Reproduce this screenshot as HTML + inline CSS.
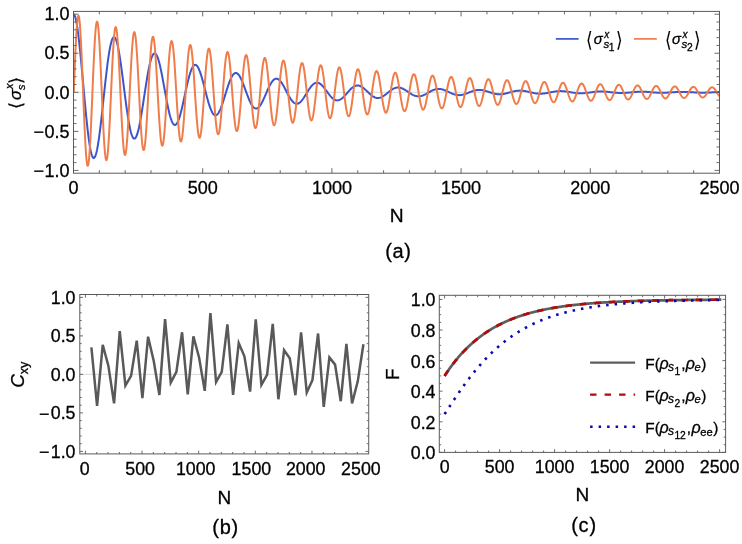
<!DOCTYPE html>
<html lang="en">
<head>
<meta charset="utf-8">
<title>Figure</title>
<style>
html,body{margin:0;padding:0;background:#fff;}
body{width:742px;height:544px;overflow:hidden;}
svg{display:block;font-family:"Liberation Sans",sans-serif;}
text{stroke:#000;stroke-width:0.3px;paint-order:stroke fill;}
</style>
</head>
<body>
<svg width="742" height="544" viewBox="0 0 742 544">
<rect width="742" height="544" fill="#ffffff"/>
<g id="plotA">
<line x1="73.5" x2="719.5" y1="92.3" y2="92.3" stroke="#bdbdbd" stroke-width="0.6"/>
<clipPath id="clipA"><rect x="73.5" y="11.4" width="646" height="161.8"/></clipPath>
<g clip-path="url(#clipA)" fill="none" stroke-linejoin="round" transform="translate(0.3,0)">
<path d="M73.5 14.2 L74.02 14.8 L74.53 15.88 L75.05 17.44 L75.57 19.47 L76.08 21.95 L76.6 24.85 L77.12 28.16 L77.63 31.84 L78.15 35.89 L78.67 40.25 L79.18 44.91 L79.7 49.83 L80.22 54.98 L80.74 60.33 L81.25 65.83 L81.77 71.44 L82.29 77.15 L82.8 82.9 L83.32 88.66 L83.84 94.39 L84.35 100.05 L84.87 105.62 L85.39 111.05 L85.9 116.32 L86.42 121.38 L86.94 126.22 L87.45 130.79 L87.97 135.08 L88.49 139.06 L89 142.7 L89.52 145.99 L90.04 148.91 L90.55 151.44 L91.07 153.57 L91.59 155.29 L92.1 156.59 L92.62 157.47 L93.14 157.92 L93.66 157.96 L94.17 157.57 L94.69 156.77 L95.21 155.56 L95.72 153.96 L96.24 151.98 L96.76 149.64 L97.27 146.95 L97.79 143.94 L98.31 140.62 L98.82 137.03 L99.34 133.18 L99.86 129.1 L100.37 124.82 L100.89 120.38 L101.41 115.79 L101.92 111.1 L102.44 106.32 L102.96 101.5 L103.47 96.67 L103.99 91.84 L104.51 87.07 L105.02 82.36 L105.54 77.77 L106.06 73.31 L106.58 69 L107.09 64.89 L107.61 60.99 L108.13 57.32 L108.64 53.9 L109.16 50.77 L109.68 47.92 L110.19 45.39 L110.71 43.17 L111.23 41.29 L111.74 39.76 L112.26 38.57 L112.78 37.73 L113.29 37.25 L113.81 37.13 L114.33 37.36 L114.84 37.94 L115.36 38.86 L115.88 40.12 L116.39 41.7 L116.91 43.58 L117.43 45.76 L117.94 48.22 L118.46 50.94 L118.98 53.9 L119.5 57.08 L120.01 60.45 L120.53 64 L121.05 67.7 L121.56 71.52 L122.08 75.44 L122.6 79.44 L123.11 83.48 L123.63 87.54 L124.15 91.59 L124.66 95.62 L125.18 99.59 L125.7 103.47 L126.21 107.25 L126.73 110.9 L127.25 114.4 L127.76 117.73 L128.28 120.87 L128.8 123.79 L129.31 126.49 L129.83 128.95 L130.35 131.15 L130.86 133.08 L131.38 134.74 L131.9 136.11 L132.42 137.19 L132.93 137.97 L133.45 138.45 L133.97 138.63 L134.48 138.52 L135 138.11 L135.52 137.42 L136.03 136.44 L136.55 135.18 L137.07 133.67 L137.58 131.9 L138.1 129.9 L138.62 127.67 L139.13 125.24 L139.65 122.62 L140.17 119.83 L140.68 116.89 L141.2 113.81 L141.72 110.63 L142.23 107.35 L142.75 104.01 L143.27 100.63 L143.78 97.22 L144.3 93.81 L144.82 90.42 L145.34 87.07 L145.85 83.79 L146.37 80.59 L146.89 77.49 L147.4 74.52 L147.92 71.68 L148.44 69 L148.95 66.49 L149.47 64.17 L149.99 62.06 L150.5 60.15 L151.02 58.46 L151.54 57.01 L152.05 55.79 L152.57 54.82 L153.09 54.1 L153.6 53.62 L154.12 53.4 L154.64 53.43 L155.15 53.71 L155.67 54.23 L156.19 54.99 L156.7 55.98 L157.22 57.19 L157.74 58.62 L158.26 60.25 L158.77 62.07 L159.29 64.07 L159.81 66.23 L160.32 68.53 L160.84 70.97 L161.36 73.53 L161.87 76.18 L162.39 78.91 L162.91 81.7 L163.42 84.53 L163.94 87.39 L164.46 90.26 L164.97 93.11 L165.49 95.93 L166.01 98.71 L166.52 101.42 L167.04 104.04 L167.56 106.57 L168.07 108.99 L168.59 111.27 L169.11 113.42 L169.62 115.41 L170.14 117.24 L170.66 118.89 L171.18 120.35 L171.69 121.63 L172.21 122.7 L172.73 123.58 L173.24 124.24 L173.76 124.69 L174.28 124.94 L174.79 124.97 L175.31 124.79 L175.83 124.41 L176.34 123.83 L176.86 123.05 L177.38 122.08 L177.89 120.93 L178.41 119.6 L178.93 118.12 L179.44 116.48 L179.96 114.7 L180.48 112.79 L180.99 110.77 L181.51 108.65 L182.03 106.45 L182.54 104.17 L183.06 101.84 L183.58 99.47 L184.1 97.07 L184.61 94.66 L185.13 92.26 L185.65 89.88 L186.16 87.54 L186.68 85.25 L187.2 83.02 L187.71 80.88 L188.23 78.82 L188.75 76.87 L189.26 75.04 L189.78 73.33 L190.3 71.76 L190.81 70.33 L191.33 69.06 L191.85 67.94 L192.36 66.99 L192.88 66.21 L193.4 65.61 L193.91 65.18 L194.43 64.93 L194.95 64.85 L195.46 64.95 L195.98 65.23 L196.5 65.67 L197.02 66.28 L197.53 67.06 L198.05 67.98 L198.57 69.06 L199.08 70.27 L199.6 71.61 L200.12 73.07 L200.63 74.65 L201.15 76.32 L201.67 78.08 L202.18 79.91 L202.7 81.81 L203.22 83.76 L203.73 85.74 L204.25 87.75 L204.77 89.77 L205.28 91.79 L205.8 93.79 L206.32 95.77 L206.83 97.71 L207.35 99.59 L207.87 101.41 L208.38 103.16 L208.9 104.82 L209.42 106.39 L209.94 107.86 L210.45 109.21 L210.97 110.44 L211.49 111.55 L212 112.52 L212.52 113.35 L213.04 114.05 L213.55 114.59 L214.07 115 L214.59 115.25 L215.1 115.35 L215.62 115.31 L216.14 115.11 L216.65 114.78 L217.17 114.3 L217.69 113.69 L218.2 112.95 L218.72 112.08 L219.24 111.09 L219.75 109.99 L220.27 108.79 L220.79 107.49 L221.3 106.11 L221.82 104.65 L222.34 103.13 L222.86 101.55 L223.37 99.92 L223.89 98.26 L224.41 96.58 L224.92 94.88 L225.44 93.19 L225.96 91.5 L226.47 89.83 L226.99 88.19 L227.51 86.6 L228.02 85.05 L228.54 83.57 L229.06 82.15 L229.57 80.81 L230.09 79.56 L230.61 78.4 L231.12 77.33 L231.64 76.38 L232.16 75.53 L232.67 74.8 L233.19 74.18 L233.71 73.69 L234.22 73.32 L234.74 73.07 L235.26 72.95 L235.78 72.96 L236.29 73.08 L236.81 73.33 L237.33 73.7 L237.84 74.19 L238.36 74.78 L238.88 75.48 L239.39 76.29 L239.91 77.18 L240.43 78.17 L240.94 79.24 L241.46 80.38 L241.98 81.59 L242.49 82.86 L243.01 84.17 L243.53 85.53 L244.04 86.91 L244.56 88.32 L245.08 89.75 L245.59 91.17 L246.11 92.59 L246.63 94 L247.14 95.38 L247.66 96.73 L248.18 98.04 L248.7 99.3 L249.21 100.51 L249.73 101.65 L250.25 102.73 L250.76 103.72 L251.28 104.64 L251.8 105.47 L252.31 106.2 L252.83 106.84 L253.35 107.39 L253.86 107.83 L254.38 108.17 L254.9 108.4 L255.41 108.53 L255.93 108.56 L256.45 108.48 L256.96 108.3 L257.48 108.01 L258 107.63 L258.51 107.16 L259.03 106.59 L259.55 105.94 L260.06 105.21 L260.58 104.4 L261.1 103.52 L261.62 102.57 L262.13 101.57 L262.65 100.52 L263.17 99.43 L263.68 98.3 L264.2 97.14 L264.72 95.96 L265.23 94.77 L265.75 93.57 L266.27 92.38 L266.78 91.19 L267.3 90.02 L267.82 88.88 L268.33 87.77 L268.85 86.7 L269.37 85.67 L269.88 84.7 L270.4 83.78 L270.92 82.93 L271.43 82.14 L271.95 81.42 L272.47 80.78 L272.98 80.22 L273.5 79.74 L274.02 79.35 L274.54 79.04 L275.05 78.82 L275.57 78.69 L276.09 78.64 L276.6 78.69 L277.12 78.82 L277.64 79.03 L278.15 79.33 L278.67 79.71 L279.19 80.16 L279.7 80.69 L280.22 81.29 L280.74 81.95 L281.25 82.67 L281.77 83.45 L282.29 84.28 L282.8 85.15 L283.32 86.06 L283.84 87 L284.35 87.97 L284.87 88.96 L285.39 89.96 L285.9 90.96 L286.42 91.97 L286.94 92.96 L287.46 93.95 L287.97 94.91 L288.49 95.85 L289.01 96.76 L289.52 97.64 L290.04 98.47 L290.56 99.25 L291.07 99.98 L291.59 100.66 L292.11 101.28 L292.62 101.83 L293.14 102.32 L293.66 102.74 L294.17 103.09 L294.69 103.37 L295.21 103.58 L295.72 103.71 L296.24 103.77 L296.76 103.75 L297.27 103.66 L297.79 103.5 L298.31 103.27 L298.82 102.97 L299.34 102.6 L299.86 102.18 L300.38 101.69 L300.89 101.15 L301.41 100.55 L301.93 99.91 L302.44 99.23 L302.96 98.5 L303.48 97.75 L303.99 96.96 L304.51 96.16 L305.03 95.33 L305.54 94.5 L306.06 93.65 L306.58 92.81 L307.09 91.97 L307.61 91.14 L308.13 90.32 L308.64 89.53 L309.16 88.75 L309.68 88.01 L310.19 87.31 L310.71 86.64 L311.23 86.01 L311.74 85.43 L312.26 84.89 L312.78 84.41 L313.3 83.99 L313.81 83.62 L314.33 83.31 L314.85 83.06 L315.36 82.87 L315.88 82.74 L316.4 82.68 L316.91 82.67 L317.43 82.73 L317.95 82.85 L318.46 83.03 L318.98 83.27 L319.5 83.56 L320.01 83.9 L320.53 84.3 L321.05 84.74 L321.56 85.23 L322.08 85.76 L322.6 86.32 L323.11 86.92 L323.63 87.55 L324.15 88.2 L324.66 88.88 L325.18 89.57 L325.7 90.27 L326.22 90.97 L326.73 91.68 L327.25 92.39 L327.77 93.09 L328.28 93.78 L328.8 94.45 L329.32 95.1 L329.83 95.73 L330.35 96.34 L330.87 96.91 L331.38 97.45 L331.9 97.94 L332.42 98.4 L332.93 98.82 L333.45 99.19 L333.97 99.51 L334.48 99.79 L335 100.01 L335.52 100.18 L336.03 100.3 L336.55 100.37 L337.07 100.39 L337.58 100.35 L338.1 100.27 L338.62 100.13 L339.14 99.94 L339.65 99.71 L340.17 99.43 L340.69 99.11 L341.2 98.75 L341.72 98.35 L342.24 97.92 L342.75 97.45 L343.27 96.95 L343.79 96.43 L344.3 95.89 L344.82 95.33 L345.34 94.75 L345.85 94.17 L346.37 93.58 L346.89 92.98 L347.4 92.39 L347.92 91.8 L348.44 91.21 L348.95 90.64 L349.47 90.09 L349.99 89.56 L350.5 89.04 L351.02 88.56 L351.54 88.1 L352.06 87.67 L352.57 87.27 L353.09 86.92 L353.61 86.59 L354.12 86.31 L354.64 86.07 L355.16 85.87 L355.67 85.71 L356.19 85.6 L356.71 85.53 L357.22 85.51 L357.74 85.52 L358.26 85.59 L358.77 85.69 L359.29 85.83 L359.81 86.02 L360.32 86.24 L360.84 86.5 L361.36 86.8 L361.87 87.12 L362.39 87.48 L362.91 87.87 L363.42 88.28 L363.94 88.71 L364.46 89.16 L364.98 89.63 L365.49 90.11 L366.01 90.6 L366.53 91.09 L367.04 91.59 L367.56 92.09 L368.08 92.59 L368.59 93.08 L369.11 93.56 L369.63 94.03 L370.14 94.49 L370.66 94.92 L371.18 95.34 L371.69 95.73 L372.21 96.09 L372.73 96.43 L373.24 96.74 L373.76 97.02 L374.28 97.27 L374.79 97.48 L375.31 97.66 L375.83 97.8 L376.34 97.9 L376.86 97.97 L377.38 98 L377.9 98 L378.41 97.96 L378.93 97.88 L379.45 97.77 L379.96 97.62 L380.48 97.44 L381 97.23 L381.51 96.99 L382.03 96.72 L382.55 96.43 L383.06 96.11 L383.58 95.77 L384.1 95.42 L384.61 95.04 L385.13 94.65 L385.65 94.25 L386.16 93.84 L386.68 93.43 L387.2 93.01 L387.71 92.59 L388.23 92.17 L388.75 91.75 L389.26 91.35 L389.78 90.95 L390.3 90.57 L390.82 90.2 L391.33 89.84 L391.85 89.51 L392.37 89.19 L392.88 88.9 L393.4 88.64 L393.92 88.39 L394.43 88.18 L394.95 87.99 L395.47 87.84 L395.98 87.71 L396.5 87.61 L397.02 87.55 L397.53 87.51 L398.05 87.51 L398.57 87.54 L399.08 87.59 L399.6 87.68 L400.12 87.8 L400.63 87.94 L401.15 88.11 L401.67 88.3 L402.18 88.52 L402.7 88.76 L403.22 89.02 L403.74 89.3 L404.25 89.6 L404.77 89.91 L405.29 90.24 L405.8 90.57 L406.32 90.91 L406.84 91.26 L407.35 91.61 L407.87 91.96 L408.39 92.32 L408.9 92.66 L409.42 93.01 L409.94 93.34 L410.45 93.67 L410.97 93.98 L411.49 94.29 L412 94.57 L412.52 94.84 L413.04 95.09 L413.55 95.32 L414.07 95.53 L414.59 95.71 L415.1 95.88 L415.62 96.01 L416.14 96.13 L416.66 96.22 L417.17 96.28 L417.69 96.31 L418.21 96.32 L418.72 96.31 L419.24 96.27 L419.76 96.2 L420.27 96.11 L420.79 96 L421.31 95.86 L421.82 95.7 L422.34 95.52 L422.86 95.33 L423.37 95.11 L423.89 94.88 L424.41 94.64 L424.92 94.38 L425.44 94.11 L425.96 93.83 L426.47 93.54 L426.99 93.25 L427.51 92.96 L428.02 92.66 L428.54 92.37 L429.06 92.07 L429.58 91.78 L430.09 91.5 L430.61 91.22 L431.13 90.96 L431.64 90.7 L432.16 90.46 L432.68 90.23 L433.19 90.01 L433.71 89.81 L434.23 89.63 L434.74 89.47 L435.26 89.33 L435.78 89.21 L436.29 89.11 L436.81 89.03 L437.33 88.97 L437.84 88.93 L438.36 88.92 L438.88 88.93 L439.39 88.96 L439.91 89.01 L440.43 89.08 L440.94 89.17 L441.46 89.28 L441.98 89.4 L442.5 89.55 L443.01 89.71 L443.53 89.89 L444.05 90.08 L444.56 90.28 L445.08 90.5 L445.6 90.72 L446.11 90.95 L446.63 91.19 L447.15 91.43 L447.66 91.68 L448.18 91.93 L448.7 92.18 L449.21 92.43 L449.73 92.67 L450.25 92.91 L450.76 93.14 L451.28 93.37 L451.8 93.59 L452.31 93.79 L452.83 93.99 L453.35 94.17 L453.86 94.34 L454.38 94.5 L454.9 94.64 L455.42 94.76 L455.93 94.87 L456.45 94.96 L456.97 95.03 L457.48 95.08 L458 95.12 L458.52 95.14 L459.03 95.14 L459.55 95.12 L460.07 95.08 L460.58 95.03 L461.1 94.95 L461.62 94.87 L462.13 94.76 L462.65 94.64 L463.17 94.51 L463.68 94.37 L464.2 94.21 L464.72 94.04 L465.23 93.86 L465.75 93.68 L466.27 93.49 L466.78 93.29 L467.3 93.08 L467.82 92.88 L468.34 92.67 L468.85 92.46 L469.37 92.25 L469.89 92.04 L470.4 91.84 L470.92 91.64 L471.44 91.45 L471.95 91.27 L472.47 91.09 L472.99 90.92 L473.5 90.77 L474.02 90.62 L474.54 90.49 L475.05 90.37 L475.57 90.26 L476.09 90.16 L476.6 90.09 L477.12 90.02 L477.64 89.97 L478.15 89.94 L478.67 89.92 L479.19 89.92 L479.7 89.93 L480.22 89.96 L480.74 90 L481.26 90.05 L481.77 90.12 L482.29 90.21 L482.81 90.3 L483.32 90.41 L483.84 90.53 L484.36 90.66 L484.87 90.8 L485.39 90.94 L485.91 91.1 L486.42 91.26 L486.94 91.43 L487.46 91.6 L487.97 91.77 L488.49 91.94 L489.01 92.12 L489.52 92.29 L490.04 92.47 L490.56 92.64 L491.07 92.81 L491.59 92.97 L492.11 93.13 L492.62 93.28 L493.14 93.42 L493.66 93.55 L494.18 93.68 L494.69 93.79 L495.21 93.9 L495.73 93.99 L496.24 94.07 L496.76 94.14 L497.28 94.2 L497.79 94.25 L498.31 94.28 L498.83 94.3 L499.34 94.3 L499.86 94.3 L500.38 94.28 L500.89 94.24 L501.41 94.2 L501.93 94.14 L502.44 94.08 L502.96 94 L503.48 93.91 L503.99 93.81 L504.51 93.71 L505.03 93.59 L505.54 93.47 L506.06 93.34 L506.58 93.21 L507.1 93.07 L507.61 92.93 L508.13 92.79 L508.65 92.64 L509.16 92.49 L509.68 92.34 L510.2 92.2 L510.71 92.05 L511.23 91.91 L511.75 91.77 L512.26 91.64 L512.78 91.51 L513.3 91.39 L513.81 91.28 L514.33 91.17 L514.85 91.07 L515.36 90.98 L515.88 90.9 L516.4 90.83 L516.91 90.77 L517.43 90.72 L517.95 90.68 L518.46 90.65 L518.98 90.63 L519.5 90.62 L520.02 90.62 L520.53 90.63 L521.05 90.66 L521.57 90.69 L522.08 90.74 L522.6 90.79 L523.12 90.85 L523.63 90.93 L524.15 91.01 L524.67 91.09 L525.18 91.19 L525.7 91.29 L526.22 91.39 L526.73 91.5 L527.25 91.62 L527.77 91.74 L528.28 91.86 L528.8 91.98 L529.32 92.11 L529.83 92.23 L530.35 92.35 L530.87 92.47 L531.38 92.59 L531.9 92.71 L532.42 92.82 L532.94 92.93 L533.45 93.04 L533.97 93.13 L534.49 93.23 L535 93.31 L535.52 93.39 L536.04 93.46 L536.55 93.52 L537.07 93.57 L537.59 93.62 L538.1 93.66 L538.62 93.68 L539.14 93.7 L539.65 93.71 L540.17 93.71 L540.69 93.7 L541.2 93.68 L541.72 93.66 L542.24 93.62 L542.75 93.58 L543.27 93.53 L543.79 93.47 L544.3 93.41 L544.82 93.33 L545.34 93.26 L545.86 93.17 L546.37 93.09 L546.89 92.99 L547.41 92.9 L547.92 92.8 L548.44 92.7 L548.96 92.6 L549.47 92.49 L549.99 92.39 L550.51 92.28 L551.02 92.18 L551.54 92.08 L552.06 91.98 L552.57 91.89 L553.09 91.79 L553.61 91.71 L554.12 91.62 L554.64 91.54 L555.16 91.47 L555.67 91.4 L556.19 91.34 L556.71 91.29 L557.22 91.24 L557.74 91.2 L558.26 91.17 L558.78 91.14 L559.29 91.13 L559.81 91.12 L560.33 91.11 L560.84 91.12 L561.36 91.13 L561.88 91.15 L562.39 91.18 L562.91 91.21 L563.43 91.26 L563.94 91.3 L564.46 91.36 L564.98 91.41 L565.49 91.48 L566.01 91.55 L566.53 91.62 L567.04 91.7 L567.56 91.78 L568.08 91.86 L568.59 91.94 L569.11 92.03 L569.63 92.12 L570.14 92.2 L570.66 92.29 L571.18 92.38 L571.7 92.46 L572.21 92.55 L572.73 92.63 L573.25 92.7 L573.76 92.78 L574.28 92.85 L574.8 92.92 L575.31 92.98 L575.83 93.04 L576.35 93.09 L576.86 93.14 L577.38 93.18 L577.9 93.21 L578.41 93.24 L578.93 93.27 L579.45 93.28 L579.96 93.29 L580.48 93.3 L581 93.29 L581.51 93.28 L582.03 93.27 L582.55 93.25 L583.06 93.22 L583.58 93.19 L584.1 93.15 L584.62 93.11 L585.13 93.06 L585.65 93 L586.17 92.95 L586.68 92.89 L587.2 92.82 L587.72 92.76 L588.23 92.69 L588.75 92.62 L589.27 92.55 L589.78 92.47 L590.3 92.4 L590.82 92.33 L591.33 92.26 L591.85 92.18 L592.37 92.11 L592.88 92.04 L593.4 91.98 L593.92 91.91 L594.43 91.85 L594.95 91.8 L595.47 91.74 L595.98 91.69 L596.5 91.65 L597.02 91.61 L597.54 91.57 L598.05 91.54 L598.57 91.51 L599.09 91.49 L599.6 91.48 L600.12 91.47 L600.64 91.46 L601.15 91.46 L601.67 91.47 L602.19 91.48 L602.7 91.5 L603.22 91.52 L603.74 91.55 L604.25 91.58 L604.77 91.61 L605.29 91.65 L605.8 91.7 L606.32 91.74 L606.84 91.79 L607.35 91.84 L607.87 91.9 L608.39 91.96 L608.9 92.02 L609.42 92.08 L609.94 92.14 L610.46 92.2 L610.97 92.26 L611.49 92.32 L612.01 92.38 L612.52 92.44 L613.04 92.5 L613.56 92.56 L614.07 92.61 L614.59 92.66 L615.11 92.71 L615.62 92.76 L616.14 92.8 L616.66 92.84 L617.17 92.87 L617.69 92.9 L618.21 92.93 L618.72 92.95 L619.24 92.97 L619.76 92.99 L620.27 93 L620.79 93 L621.31 93 L621.82 93 L622.34 92.99 L622.86 92.98 L623.38 92.96 L623.89 92.94 L624.41 92.91 L624.93 92.89 L625.44 92.85 L625.96 92.82 L626.48 92.78 L626.99 92.74 L627.51 92.69 L628.03 92.65 L628.54 92.6 L629.06 92.55 L629.58 92.5 L630.09 92.45 L630.61 92.4 L631.13 92.35 L631.64 92.3 L632.16 92.24 L632.68 92.19 L633.19 92.15 L633.71 92.1 L634.23 92.05 L634.74 92.01 L635.26 91.97 L635.78 91.93 L636.3 91.89 L636.81 91.86 L637.33 91.83 L637.85 91.8 L638.36 91.77 L638.88 91.75 L639.4 91.74 L639.91 91.73 L640.43 91.72 L640.95 91.71 L641.46 91.71 L641.98 91.71 L642.5 91.72 L643.01 91.73 L643.53 91.74 L644.05 91.76 L644.56 91.78 L645.08 91.8 L645.6 91.83 L646.11 91.86 L646.63 91.89 L647.15 91.92 L647.66 91.96 L648.18 92 L648.7 92.04 L649.22 92.08 L649.73 92.12 L650.25 92.16 L650.77 92.2 L651.28 92.25 L651.8 92.29 L652.32 92.33 L652.83 92.38 L653.35 92.42 L653.87 92.46 L654.38 92.5 L654.9 92.54 L655.42 92.57 L655.93 92.61 L656.45 92.64 L656.97 92.67 L657.48 92.69 L658 92.72 L658.52 92.74 L659.03 92.75 L659.55 92.77 L660.07 92.78 L660.58 92.79 L661.1 92.79 L661.62 92.8 L662.14 92.79 L662.65 92.79 L663.17 92.78 L663.69 92.77 L664.2 92.76 L664.72 92.74 L665.24 92.72 L665.75 92.7 L666.27 92.68 L666.79 92.65 L667.3 92.62 L667.82 92.59 L668.34 92.56 L668.85 92.53 L669.37 92.5 L669.89 92.46 L670.4 92.43 L670.92 92.39 L671.44 92.35 L671.95 92.32 L672.47 92.28 L672.99 92.24 L673.5 92.21 L674.02 92.18 L674.54 92.14 L675.06 92.11 L675.57 92.08 L676.09 92.05 L676.61 92.02 L677.12 92 L677.64 91.98 L678.16 91.96 L678.67 91.94 L679.19 91.92 L679.71 91.91 L680.22 91.9 L680.74 91.89 L681.26 91.89 L681.77 91.88 L682.29 91.88 L682.81 91.89 L683.32 91.89 L683.84 91.9 L684.36 91.91 L684.87 91.92 L685.39 91.94 L685.91 91.96 L686.42 91.98 L686.94 92 L687.46 92.02 L687.98 92.05 L688.49 92.07 L689.01 92.1 L689.53 92.13 L690.04 92.16 L690.56 92.19 L691.08 92.22 L691.59 92.25 L692.11 92.28 L692.63 92.31 L693.14 92.34 L693.66 92.37 L694.18 92.4 L694.69 92.43 L695.21 92.45 L695.73 92.48 L696.24 92.5 L696.76 92.53 L697.28 92.55 L697.79 92.57 L698.31 92.58 L698.83 92.6 L699.34 92.61 L699.86 92.63 L700.38 92.63 L700.9 92.64 L701.41 92.65 L701.93 92.65 L702.45 92.65 L702.96 92.65 L703.48 92.64 L704 92.64 L704.51 92.63 L705.03 92.62 L705.55 92.61 L706.06 92.59 L706.58 92.58 L707.1 92.56 L707.61 92.54 L708.13 92.52 L708.65 92.5 L709.16 92.48 L709.68 92.45 L710.2 92.43 L710.71 92.4 L711.23 92.38 L711.75 92.35 L712.26 92.33 L712.78 92.3 L713.3 92.27 L713.82 92.25 L714.33 92.23 L714.85 92.2 L715.37 92.18 L715.88 92.16 L716.4 92.14 L716.92 92.12 L717.43 92.1 L717.95 92.08 L718.47 92.07 L718.98 92.05 L719.5 92.04" stroke="#3b55cc" stroke-width="2"/>
<path d="M73.5 92.3 L73.76 85.51 L74.02 78.79 L74.28 72.19 L74.53 65.75 L74.79 59.53 L75.05 53.57 L75.31 47.92 L75.57 42.61 L75.83 37.7 L76.08 33.21 L76.34 29.17 L76.6 25.63 L76.86 22.59 L77.12 20.1 L77.38 18.15 L77.63 16.77 L77.89 15.97 L78.15 15.75 L78.41 16.1 L78.67 17.04 L78.93 18.54 L79.18 20.6 L79.44 23.2 L79.7 26.31 L79.96 29.92 L80.22 33.99 L80.48 38.5 L80.74 43.4 L80.99 48.66 L81.25 54.24 L81.51 60.1 L81.77 66.19 L82.03 72.46 L82.29 78.87 L82.54 85.37 L82.8 91.9 L83.06 98.43 L83.32 104.89 L83.58 111.24 L83.84 117.44 L84.09 123.43 L84.35 129.17 L84.61 134.62 L84.87 139.74 L85.13 144.48 L85.39 148.82 L85.64 152.73 L85.9 156.16 L86.16 159.11 L86.42 161.54 L86.68 163.44 L86.94 164.8 L87.2 165.6 L87.45 165.85 L87.71 165.54 L87.97 164.68 L88.23 163.27 L88.49 161.32 L88.75 158.86 L89 155.89 L89.26 152.45 L89.52 148.57 L89.78 144.26 L90.04 139.58 L90.3 134.54 L90.55 129.19 L90.81 123.58 L91.07 117.74 L91.33 111.73 L91.59 105.58 L91.85 99.34 L92.1 93.06 L92.36 86.79 L92.62 80.58 L92.88 74.47 L93.14 68.5 L93.4 62.73 L93.66 57.2 L93.91 51.95 L94.17 47.01 L94.43 42.43 L94.69 38.24 L94.95 34.46 L95.21 31.13 L95.46 28.28 L95.72 25.91 L95.98 24.05 L96.24 22.72 L96.5 21.91 L96.76 21.64 L97.01 21.9 L97.27 22.7 L97.53 24.03 L97.79 25.86 L98.05 28.2 L98.31 31.02 L98.56 34.3 L98.82 38 L99.08 42.12 L99.34 46.6 L99.6 51.42 L99.86 56.54 L100.12 61.91 L100.37 67.51 L100.63 73.28 L100.89 79.18 L101.15 85.17 L101.41 91.2 L101.67 97.23 L101.92 103.2 L102.18 109.08 L102.44 114.82 L102.7 120.37 L102.96 125.7 L103.22 130.77 L103.47 135.53 L103.73 139.95 L103.99 144.01 L104.25 147.66 L104.51 150.88 L104.77 153.66 L105.02 155.96 L105.28 157.77 L105.54 159.09 L105.8 159.89 L106.06 160.19 L106.32 159.96 L106.58 159.23 L106.83 157.98 L107.09 156.25 L107.35 154.03 L107.61 151.35 L107.87 148.23 L108.13 144.69 L108.38 140.76 L108.64 136.48 L108.9 131.87 L109.16 126.96 L109.42 121.81 L109.68 116.45 L109.93 110.91 L110.19 105.25 L110.45 99.5 L110.71 93.7 L110.97 87.91 L111.23 82.17 L111.48 76.52 L111.74 70.99 L112 65.65 L112.26 60.51 L112.52 55.63 L112.78 51.03 L113.04 46.76 L113.29 42.85 L113.55 39.32 L113.81 36.19 L114.07 33.5 L114.33 31.26 L114.59 29.49 L114.84 28.2 L115.1 27.39 L115.36 27.08 L115.62 27.27 L115.88 27.95 L116.14 29.11 L116.39 30.75 L116.65 32.85 L116.91 35.4 L117.17 38.37 L117.43 41.75 L117.69 45.5 L117.94 49.6 L118.2 54.01 L118.46 58.7 L118.72 63.64 L118.98 68.78 L119.24 74.09 L119.5 79.53 L119.75 85.05 L120.01 90.61 L120.27 96.18 L120.53 101.7 L120.79 107.14 L121.05 112.45 L121.3 117.6 L121.56 122.55 L121.82 127.26 L122.08 131.69 L122.34 135.81 L122.6 139.59 L122.85 143.01 L123.11 146.03 L123.37 148.65 L123.63 150.82 L123.89 152.55 L124.15 153.82 L124.4 154.62 L124.66 154.95 L124.92 154.8 L125.18 154.18 L125.44 153.09 L125.7 151.54 L125.96 149.55 L126.21 147.12 L126.47 144.29 L126.73 141.07 L126.99 137.49 L127.25 133.57 L127.51 129.35 L127.76 124.86 L128.02 120.13 L128.28 115.2 L128.54 110.1 L128.8 104.89 L129.06 99.59 L129.31 94.24 L129.57 88.9 L129.83 83.59 L130.09 78.36 L130.35 73.24 L130.61 68.29 L130.86 63.52 L131.12 58.98 L131.38 54.71 L131.64 50.73 L131.9 47.08 L132.16 43.77 L132.42 40.84 L132.67 38.31 L132.93 36.19 L133.19 34.5 L133.45 33.25 L133.71 32.46 L133.97 32.12 L134.22 32.23 L134.48 32.8 L134.74 33.82 L135 35.28 L135.26 37.17 L135.52 39.48 L135.77 42.17 L136.03 45.25 L136.29 48.67 L136.55 52.41 L136.81 56.45 L137.07 60.75 L137.32 65.29 L137.58 70.01 L137.84 74.9 L138.1 79.9 L138.36 84.99 L138.62 90.12 L138.88 95.26 L139.13 100.36 L139.39 105.39 L139.65 110.31 L139.91 115.09 L140.17 119.68 L140.43 124.05 L140.68 128.17 L140.94 132.01 L141.2 135.55 L141.46 138.74 L141.72 141.58 L141.98 144.04 L142.23 146.1 L142.49 147.74 L142.75 148.97 L143.01 149.76 L143.27 150.11 L143.53 150.03 L143.78 149.51 L144.04 148.55 L144.3 147.17 L144.56 145.38 L144.82 143.19 L145.08 140.62 L145.34 137.69 L145.59 134.43 L145.85 130.85 L146.11 126.98 L146.37 122.86 L146.63 118.52 L146.89 113.99 L147.14 109.31 L147.4 104.51 L147.66 99.62 L147.92 94.69 L148.18 89.76 L148.44 84.85 L148.69 80.01 L148.95 75.28 L149.21 70.68 L149.47 66.26 L149.73 62.04 L149.99 58.07 L150.24 54.36 L150.5 50.95 L150.76 47.86 L151.02 45.11 L151.28 42.73 L151.54 40.73 L151.8 39.12 L152.05 37.92 L152.31 37.13 L152.57 36.77 L152.83 36.82 L153.09 37.3 L153.35 38.19 L153.6 39.49 L153.86 41.19 L154.12 43.27 L154.38 45.71 L154.64 48.51 L154.9 51.63 L155.15 55.05 L155.41 58.75 L155.67 62.69 L155.93 66.85 L156.19 71.19 L156.45 75.68 L156.7 80.29 L156.96 84.98 L157.22 89.72 L157.48 94.46 L157.74 99.17 L158 103.83 L158.26 108.38 L158.51 112.81 L158.77 117.07 L159.03 121.13 L159.29 124.96 L159.55 128.54 L159.81 131.84 L160.06 134.82 L160.32 137.48 L160.58 139.8 L160.84 141.74 L161.1 143.31 L161.36 144.49 L161.61 145.27 L161.87 145.64 L162.13 145.61 L162.39 145.18 L162.65 144.35 L162.91 143.12 L163.16 141.52 L163.42 139.54 L163.68 137.21 L163.94 134.54 L164.2 131.56 L164.46 128.29 L164.72 124.76 L164.97 120.98 L165.23 117 L165.49 112.84 L165.75 108.53 L166.01 104.11 L166.27 99.61 L166.52 95.06 L166.78 90.5 L167.04 85.97 L167.3 81.49 L167.56 77.11 L167.82 72.85 L168.07 68.75 L168.33 64.83 L168.59 61.14 L168.85 57.68 L169.11 54.5 L169.37 51.61 L169.62 49.04 L169.88 46.79 L170.14 44.9 L170.4 43.37 L170.66 42.22 L170.92 41.45 L171.18 41.06 L171.43 41.07 L171.69 41.46 L171.95 42.24 L172.21 43.39 L172.47 44.91 L172.73 46.79 L172.98 49.01 L173.24 51.55 L173.5 54.4 L173.76 57.52 L174.02 60.91 L174.28 64.52 L174.53 68.34 L174.79 72.32 L175.05 76.46 L175.31 80.7 L175.57 85.02 L175.83 89.38 L176.08 93.76 L176.34 98.12 L176.6 102.42 L176.86 106.64 L177.12 110.74 L177.38 114.69 L177.64 118.47 L177.89 122.03 L178.15 125.36 L178.41 128.44 L178.67 131.23 L178.93 133.72 L179.19 135.9 L179.44 137.74 L179.7 139.23 L179.96 140.36 L180.22 141.12 L180.48 141.51 L180.74 141.53 L180.99 141.18 L181.25 140.45 L181.51 139.37 L181.77 137.92 L182.03 136.14 L182.29 134.03 L182.54 131.6 L182.8 128.89 L183.06 125.9 L183.32 122.66 L183.58 119.2 L183.84 115.55 L184.1 111.73 L184.35 107.77 L184.61 103.7 L184.87 99.55 L185.13 95.36 L185.39 91.15 L185.65 86.96 L185.9 82.82 L186.16 78.76 L186.42 74.82 L186.68 71.01 L186.94 67.38 L187.2 63.94 L187.45 60.72 L187.71 57.75 L187.97 55.05 L188.23 52.64 L188.49 50.53 L188.75 48.75 L189 47.29 L189.26 46.19 L189.52 45.43 L189.78 45.03 L190.04 44.99 L190.3 45.31 L190.56 45.99 L190.81 47.01 L191.07 48.38 L191.33 50.07 L191.59 52.08 L191.85 54.39 L192.11 56.98 L192.36 59.84 L192.62 62.93 L192.88 66.25 L193.14 69.75 L193.4 73.41 L193.66 77.21 L193.91 81.11 L194.17 85.09 L194.43 89.12 L194.69 93.16 L194.95 97.19 L195.21 101.17 L195.46 105.07 L195.72 108.87 L195.98 112.54 L196.24 116.04 L196.5 119.35 L196.76 122.46 L197.02 125.33 L197.27 127.94 L197.53 130.27 L197.79 132.31 L198.05 134.05 L198.31 135.46 L198.57 136.55 L198.82 137.29 L199.08 137.7 L199.34 137.76 L199.6 137.47 L199.86 136.84 L200.12 135.88 L200.37 134.59 L200.63 132.98 L200.89 131.07 L201.15 128.86 L201.41 126.39 L201.67 123.66 L201.92 120.7 L202.18 117.53 L202.44 114.18 L202.7 110.67 L202.96 107.02 L203.22 103.28 L203.48 99.46 L203.73 95.59 L203.99 91.71 L204.25 87.84 L204.51 84.01 L204.77 80.25 L205.03 76.6 L205.28 73.07 L205.54 69.69 L205.8 66.5 L206.06 63.5 L206.32 60.73 L206.58 58.21 L206.83 55.95 L207.09 53.97 L207.35 52.28 L207.61 50.91 L207.87 49.84 L208.13 49.11 L208.38 48.7 L208.64 48.62 L208.9 48.88 L209.16 49.46 L209.42 50.37 L209.68 51.59 L209.94 53.12 L210.19 54.94 L210.45 57.04 L210.71 59.4 L210.97 62.01 L211.23 64.84 L211.49 67.87 L211.74 71.08 L212 74.45 L212.26 77.94 L212.52 81.53 L212.78 85.2 L213.04 88.91 L213.29 92.64 L213.55 96.36 L213.81 100.04 L214.07 103.66 L214.33 107.18 L214.59 110.58 L214.84 113.83 L215.1 116.91 L215.36 119.8 L215.62 122.47 L215.88 124.91 L216.14 127.1 L216.4 129.02 L216.65 130.66 L216.91 132 L217.17 133.04 L217.43 133.76 L217.69 134.17 L217.95 134.27 L218.2 134.04 L218.46 133.5 L218.72 132.65 L218.98 131.49 L219.24 130.04 L219.5 128.31 L219.75 126.31 L220.01 124.05 L220.27 121.56 L220.53 118.85 L220.79 115.95 L221.05 112.87 L221.3 109.65 L221.56 106.3 L221.82 102.85 L222.08 99.34 L222.34 95.77 L222.6 92.19 L222.86 88.61 L223.11 85.07 L223.37 81.6 L223.63 78.21 L223.89 74.94 L224.15 71.8 L224.41 68.83 L224.66 66.04 L224.92 63.46 L225.18 61.1 L225.44 58.99 L225.7 57.13 L225.96 55.54 L226.21 54.23 L226.47 53.22 L226.73 52.5 L226.99 52.09 L227.25 51.98 L227.51 52.18 L227.76 52.68 L228.02 53.48 L228.28 54.57 L228.54 55.95 L228.8 57.6 L229.06 59.51 L229.32 61.66 L229.57 64.04 L229.83 66.63 L230.09 69.41 L230.35 72.35 L230.61 75.44 L230.87 78.65 L231.12 81.96 L231.38 85.33 L231.64 88.76 L231.9 92.2 L232.16 95.64 L232.42 99.04 L232.67 102.38 L232.93 105.64 L233.19 108.79 L233.45 111.81 L233.71 114.68 L233.97 117.37 L234.22 119.86 L234.48 122.14 L234.74 124.19 L235 125.99 L235.26 127.53 L235.52 128.8 L235.78 129.8 L236.03 130.5 L236.29 130.92 L236.55 131.04 L236.81 130.87 L237.07 130.4 L237.33 129.65 L237.58 128.62 L237.84 127.31 L238.1 125.74 L238.36 123.92 L238.62 121.87 L238.88 119.6 L239.13 117.12 L239.39 114.46 L239.65 111.64 L239.91 108.68 L240.17 105.6 L240.43 102.43 L240.68 99.19 L240.94 95.9 L241.2 92.6 L241.46 89.29 L241.72 86.02 L241.98 82.81 L242.24 79.67 L242.49 76.63 L242.75 73.72 L243.01 70.96 L243.27 68.37 L243.53 65.96 L243.79 63.76 L244.04 61.78 L244.3 60.03 L244.56 58.53 L244.82 57.3 L245.08 56.33 L245.34 55.63 L245.59 55.21 L245.85 55.08 L246.11 55.23 L246.37 55.66 L246.63 56.36 L246.89 57.34 L247.14 58.58 L247.4 60.07 L247.66 61.81 L247.92 63.77 L248.18 65.94 L248.44 68.31 L248.7 70.85 L248.95 73.55 L249.21 76.39 L249.47 79.34 L249.73 82.38 L249.99 85.49 L250.25 88.65 L250.5 91.82 L250.76 95 L251.02 98.14 L251.28 101.24 L251.54 104.26 L251.8 107.18 L252.05 109.98 L252.31 112.64 L252.57 115.15 L252.83 117.47 L253.09 119.6 L253.35 121.52 L253.6 123.21 L253.86 124.66 L254.12 125.87 L254.38 126.81 L254.64 127.5 L254.9 127.91 L255.16 128.06 L255.41 127.93 L255.67 127.53 L255.93 126.87 L256.19 125.95 L256.45 124.77 L256.71 123.35 L256.96 121.7 L257.22 119.83 L257.48 117.76 L257.74 115.49 L258 113.06 L258.26 110.47 L258.51 107.76 L258.77 104.93 L259.03 102.01 L259.29 99.02 L259.55 95.99 L259.81 92.94 L260.06 89.89 L260.32 86.87 L260.58 83.89 L260.84 80.99 L261.1 78.17 L261.36 75.47 L261.62 72.91 L261.87 70.49 L262.13 68.25 L262.39 66.19 L262.65 64.34 L262.91 62.7 L263.17 61.29 L263.42 60.12 L263.68 59.19 L263.94 58.52 L264.2 58.1 L264.46 57.95 L264.72 58.05 L264.97 58.42 L265.23 59.04 L265.49 59.91 L265.75 61.03 L266.01 62.38 L266.27 63.95 L266.52 65.73 L266.78 67.72 L267.04 69.88 L267.3 72.21 L267.56 74.68 L267.82 77.29 L268.08 80 L268.33 82.8 L268.59 85.67 L268.85 88.57 L269.11 91.51 L269.37 94.44 L269.63 97.34 L269.88 100.21 L270.14 103 L270.4 105.71 L270.66 108.31 L270.92 110.79 L271.18 113.12 L271.43 115.28 L271.69 117.27 L271.95 119.06 L272.21 120.65 L272.47 122.02 L272.73 123.16 L272.98 124.06 L273.24 124.72 L273.5 125.14 L273.76 125.3 L274.02 125.21 L274.28 124.88 L274.54 124.3 L274.79 123.47 L275.05 122.42 L275.31 121.13 L275.57 119.63 L275.83 117.93 L276.09 116.04 L276.34 113.97 L276.6 111.74 L276.86 109.37 L277.12 106.88 L277.38 104.28 L277.64 101.59 L277.89 98.84 L278.15 96.05 L278.41 93.23 L278.67 90.42 L278.93 87.62 L279.19 84.87 L279.44 82.18 L279.7 79.57 L279.96 77.06 L280.22 74.68 L280.48 72.43 L280.74 70.34 L281 68.42 L281.25 66.69 L281.51 65.15 L281.77 63.82 L282.03 62.71 L282.29 61.83 L282.55 61.18 L282.8 60.77 L283.06 60.6 L283.32 60.67 L283.58 60.97 L283.84 61.52 L284.1 62.3 L284.35 63.3 L284.61 64.52 L284.87 65.95 L285.13 67.57 L285.39 69.38 L285.65 71.36 L285.9 73.49 L286.16 75.76 L286.42 78.15 L286.68 80.64 L286.94 83.22 L287.2 85.85 L287.46 88.53 L287.71 91.24 L287.97 93.94 L288.23 96.63 L288.49 99.28 L288.75 101.87 L289.01 104.38 L289.26 106.8 L289.52 109.09 L289.78 111.26 L290.04 113.28 L290.3 115.13 L290.56 116.81 L290.81 118.3 L291.07 119.59 L291.33 120.67 L291.59 121.53 L291.85 122.16 L292.11 122.57 L292.36 122.75 L292.62 122.7 L292.88 122.42 L293.14 121.91 L293.4 121.18 L293.66 120.23 L293.92 119.07 L294.17 117.71 L294.43 116.16 L294.69 114.43 L294.95 112.54 L295.21 110.5 L295.47 108.33 L295.72 106.04 L295.98 103.65 L296.24 101.18 L296.5 98.65 L296.76 96.07 L297.02 93.48 L297.27 90.88 L297.53 88.29 L297.79 85.75 L298.05 83.25 L298.31 80.84 L298.57 78.51 L298.82 76.3 L299.08 74.21 L299.34 72.26 L299.6 70.47 L299.86 68.84 L300.12 67.4 L300.38 66.15 L300.63 65.1 L300.89 64.26 L301.15 63.64 L301.41 63.23 L301.67 63.05 L301.93 63.08 L302.18 63.34 L302.44 63.82 L302.7 64.51 L302.96 65.41 L303.22 66.51 L303.48 67.81 L303.73 69.28 L303.99 70.93 L304.25 72.74 L304.51 74.69 L304.77 76.77 L305.03 78.97 L305.28 81.26 L305.54 83.62 L305.8 86.05 L306.06 88.52 L306.32 91.02 L306.58 93.52 L306.84 96 L307.09 98.45 L307.35 100.85 L307.61 103.17 L307.87 105.41 L308.13 107.55 L308.39 109.57 L308.64 111.45 L308.9 113.18 L309.16 114.75 L309.42 116.14 L309.68 117.35 L309.94 118.37 L310.19 119.19 L310.45 119.8 L310.71 120.21 L310.97 120.4 L311.23 120.38 L311.49 120.14 L311.74 119.7 L312 119.05 L312.26 118.19 L312.52 117.15 L312.78 115.91 L313.04 114.5 L313.3 112.93 L313.55 111.2 L313.81 109.33 L314.07 107.34 L314.33 105.24 L314.59 103.05 L314.85 100.77 L315.1 98.44 L315.36 96.07 L315.62 93.68 L315.88 91.28 L316.14 88.89 L316.4 86.53 L316.65 84.23 L316.91 81.99 L317.17 79.83 L317.43 77.77 L317.69 75.83 L317.95 74.01 L318.2 72.34 L318.46 70.82 L318.72 69.47 L318.98 68.3 L319.24 67.31 L319.5 66.51 L319.76 65.91 L320.01 65.51 L320.27 65.31 L320.53 65.32 L320.79 65.53 L321.05 65.95 L321.31 66.56 L321.56 67.37 L321.82 68.36 L322.08 69.54 L322.34 70.88 L322.6 72.39 L322.86 74.04 L323.11 75.82 L323.37 77.73 L323.63 79.74 L323.89 81.85 L324.15 84.02 L324.41 86.26 L324.66 88.54 L324.92 90.84 L325.18 93.14 L325.44 95.44 L325.7 97.7 L325.96 99.92 L326.22 102.08 L326.47 104.16 L326.73 106.14 L326.99 108.02 L327.25 109.77 L327.51 111.38 L327.77 112.85 L328.02 114.16 L328.28 115.3 L328.54 116.26 L328.8 117.04 L329.06 117.63 L329.32 118.02 L329.57 118.22 L329.83 118.23 L330.09 118.04 L330.35 117.65 L330.61 117.07 L330.87 116.3 L331.12 115.36 L331.38 114.24 L331.64 112.96 L331.9 111.52 L332.16 109.95 L332.42 108.24 L332.68 106.41 L332.93 104.48 L333.19 102.47 L333.45 100.38 L333.71 98.23 L333.97 96.05 L334.23 93.84 L334.48 91.62 L334.74 89.42 L335 87.24 L335.26 85.1 L335.52 83.03 L335.78 81.02 L336.03 79.11 L336.29 77.31 L336.55 75.62 L336.81 74.06 L337.07 72.64 L337.33 71.37 L337.58 70.27 L337.84 69.33 L338.1 68.57 L338.36 68 L338.62 67.6 L338.88 67.4 L339.14 67.38 L339.39 67.56 L339.65 67.92 L339.91 68.46 L340.17 69.19 L340.43 70.09 L340.69 71.15 L340.94 72.37 L341.2 73.74 L341.46 75.25 L341.72 76.89 L341.98 78.63 L342.24 80.48 L342.49 82.41 L342.75 84.41 L343.01 86.47 L343.27 88.57 L343.53 90.69 L343.79 92.82 L344.04 94.94 L344.3 97.04 L344.56 99.09 L344.82 101.09 L345.08 103.02 L345.34 104.86 L345.6 106.6 L345.85 108.23 L346.11 109.74 L346.37 111.11 L346.63 112.34 L346.89 113.41 L347.15 114.32 L347.4 115.06 L347.66 115.62 L347.92 116.01 L348.18 116.22 L348.44 116.24 L348.7 116.08 L348.95 115.75 L349.21 115.24 L349.47 114.55 L349.73 113.7 L349.99 112.68 L350.25 111.52 L350.5 110.21 L350.76 108.77 L351.02 107.21 L351.28 105.53 L351.54 103.77 L351.8 101.91 L352.06 99.99 L352.31 98.02 L352.57 96.01 L352.83 93.97 L353.09 91.92 L353.35 89.89 L353.61 87.87 L353.86 85.89 L354.12 83.97 L354.38 82.11 L354.64 80.34 L354.9 78.66 L355.16 77.08 L355.41 75.63 L355.67 74.3 L355.93 73.12 L356.19 72.08 L356.45 71.2 L356.71 70.48 L356.96 69.92 L357.22 69.54 L357.48 69.33 L357.74 69.3 L358 69.44 L358.26 69.75 L358.52 70.23 L358.77 70.88 L359.03 71.69 L359.29 72.65 L359.55 73.76 L359.81 75.01 L360.07 76.39 L360.32 77.88 L360.58 79.49 L360.84 81.18 L361.1 82.95 L361.36 84.8 L361.62 86.69 L361.87 88.62 L362.13 90.58 L362.39 92.54 L362.65 94.5 L362.91 96.44 L363.17 98.34 L363.42 100.19 L363.68 101.98 L363.94 103.69 L364.2 105.31 L364.46 106.83 L364.72 108.24 L364.98 109.52 L365.23 110.66 L365.49 111.67 L365.75 112.53 L366.01 113.23 L366.27 113.77 L366.53 114.15 L366.78 114.36 L367.04 114.4 L367.3 114.28 L367.56 113.99 L367.82 113.54 L368.08 112.92 L368.33 112.15 L368.59 111.24 L368.85 110.18 L369.11 108.98 L369.37 107.67 L369.63 106.24 L369.88 104.71 L370.14 103.08 L370.4 101.38 L370.66 99.62 L370.92 97.8 L371.18 95.95 L371.44 94.07 L371.69 92.18 L371.95 90.3 L372.21 88.43 L372.47 86.61 L372.73 84.82 L372.99 83.1 L373.24 81.45 L373.5 79.89 L373.76 78.42 L374.02 77.07 L374.28 75.83 L374.54 74.72 L374.79 73.74 L375.05 72.91 L375.31 72.23 L375.57 71.7 L375.83 71.33 L376.09 71.11 L376.34 71.06 L376.6 71.17 L376.86 71.44 L377.12 71.87 L377.38 72.45 L377.64 73.18 L377.9 74.05 L378.15 75.06 L378.41 76.2 L378.67 77.46 L378.93 78.82 L379.19 80.29 L379.45 81.84 L379.7 83.47 L379.96 85.16 L380.22 86.91 L380.48 88.69 L380.74 90.49 L381 92.31 L381.25 94.11 L381.51 95.91 L381.77 97.67 L382.03 99.38 L382.29 101.04 L382.55 102.63 L382.8 104.13 L383.06 105.55 L383.32 106.86 L383.58 108.05 L383.84 109.13 L384.1 110.07 L384.36 110.88 L384.61 111.55 L384.87 112.06 L385.13 112.43 L385.39 112.65 L385.65 112.7 L385.91 112.61 L386.16 112.36 L386.42 111.96 L386.68 111.41 L386.94 110.72 L387.2 109.89 L387.46 108.92 L387.71 107.84 L387.97 106.64 L388.23 105.33 L388.49 103.93 L388.75 102.44 L389.01 100.88 L389.26 99.25 L389.52 97.58 L389.78 95.87 L390.04 94.14 L390.3 92.4 L390.56 90.66 L390.82 88.94 L391.07 87.25 L391.33 85.59 L391.59 84 L391.85 82.47 L392.11 81.02 L392.37 79.65 L392.62 78.39 L392.88 77.23 L393.14 76.19 L393.4 75.28 L393.66 74.49 L393.92 73.84 L394.17 73.34 L394.43 72.98 L394.69 72.76 L394.95 72.7 L395.21 72.78 L395.47 73.01 L395.72 73.39 L395.98 73.9 L396.24 74.56 L396.5 75.35 L396.76 76.27 L397.02 77.31 L397.28 78.45 L397.53 79.7 L397.79 81.05 L398.05 82.47 L398.31 83.97 L398.57 85.52 L398.83 87.13 L399.08 88.77 L399.34 90.43 L399.6 92.1 L399.86 93.77 L400.12 95.43 L400.38 97.06 L400.63 98.65 L400.89 100.18 L401.15 101.66 L401.41 103.06 L401.67 104.37 L401.93 105.6 L402.18 106.71 L402.44 107.72 L402.7 108.61 L402.96 109.37 L403.22 110 L403.48 110.49 L403.74 110.85 L403.99 111.06 L404.25 111.13 L404.51 111.06 L404.77 110.85 L405.03 110.5 L405.29 110.01 L405.54 109.38 L405.8 108.63 L406.06 107.76 L406.32 106.77 L406.58 105.67 L406.84 104.48 L407.09 103.19 L407.35 101.83 L407.61 100.4 L407.87 98.9 L408.13 97.36 L408.39 95.79 L408.64 94.19 L408.9 92.59 L409.16 90.98 L409.42 89.39 L409.68 87.82 L409.94 86.29 L410.2 84.81 L410.45 83.39 L410.71 82.04 L410.97 80.77 L411.23 79.59 L411.49 78.51 L411.75 77.54 L412 76.68 L412.26 75.94 L412.52 75.33 L412.78 74.85 L413.04 74.5 L413.3 74.28 L413.55 74.21 L413.81 74.27 L414.07 74.46 L414.33 74.79 L414.59 75.26 L414.85 75.85 L415.1 76.56 L415.36 77.39 L415.62 78.34 L415.88 79.39 L416.14 80.53 L416.4 81.76 L416.66 83.06 L416.91 84.44 L417.17 85.87 L417.43 87.34 L417.69 88.85 L417.95 90.39 L418.21 91.93 L418.46 93.47 L418.72 95 L418.98 96.51 L419.24 97.98 L419.5 99.41 L419.76 100.78 L420.01 102.08 L420.27 103.3 L420.53 104.44 L420.79 105.48 L421.05 106.43 L421.31 107.26 L421.56 107.97 L421.82 108.57 L422.08 109.04 L422.34 109.39 L422.6 109.6 L422.86 109.68 L423.12 109.63 L423.37 109.45 L423.63 109.14 L423.89 108.7 L424.15 108.14 L424.41 107.46 L424.67 106.67 L424.92 105.77 L425.18 104.77 L425.44 103.68 L425.7 102.5 L425.96 101.25 L426.22 99.93 L426.47 98.56 L426.73 97.15 L426.99 95.7 L427.25 94.23 L427.51 92.75 L427.77 91.26 L428.02 89.79 L428.28 88.34 L428.54 86.92 L428.8 85.55 L429.06 84.23 L429.32 82.98 L429.58 81.8 L429.83 80.7 L430.09 79.69 L430.35 78.78 L430.61 77.98 L430.87 77.28 L431.13 76.7 L431.38 76.24 L431.64 75.9 L431.9 75.69 L432.16 75.6 L432.42 75.64 L432.68 75.81 L432.93 76.1 L433.19 76.51 L433.45 77.04 L433.71 77.69 L433.97 78.44 L434.23 79.3 L434.48 80.26 L434.74 81.3 L435 82.43 L435.26 83.63 L435.52 84.89 L435.78 86.2 L436.04 87.56 L436.29 88.95 L436.55 90.36 L436.81 91.79 L437.07 93.21 L437.33 94.63 L437.59 96.02 L437.84 97.38 L438.1 98.7 L438.36 99.97 L438.62 101.18 L438.88 102.32 L439.14 103.38 L439.39 104.36 L439.65 105.24 L439.91 106.02 L440.17 106.69 L440.43 107.26 L440.69 107.71 L440.94 108.04 L441.2 108.25 L441.46 108.34 L441.72 108.31 L441.98 108.16 L442.24 107.89 L442.5 107.5 L442.75 106.99 L443.01 106.38 L443.27 105.66 L443.53 104.84 L443.79 103.93 L444.05 102.93 L444.3 101.85 L444.56 100.7 L444.82 99.5 L445.08 98.24 L445.34 96.94 L445.6 95.6 L445.85 94.24 L446.11 92.88 L446.37 91.51 L446.63 90.15 L446.89 88.81 L447.15 87.49 L447.4 86.22 L447.66 85 L447.92 83.83 L448.18 82.74 L448.44 81.71 L448.7 80.77 L448.96 79.92 L449.21 79.16 L449.47 78.51 L449.73 77.96 L449.99 77.52 L450.25 77.2 L450.51 76.98 L450.76 76.89 L451.02 76.91 L451.28 77.05 L451.54 77.31 L451.8 77.67 L452.06 78.15 L452.31 78.74 L452.57 79.42 L452.83 80.2 L453.09 81.07 L453.35 82.03 L453.61 83.06 L453.86 84.16 L454.12 85.31 L454.38 86.52 L454.64 87.77 L454.9 89.05 L455.16 90.35 L455.42 91.67 L455.67 92.98 L455.93 94.29 L456.19 95.58 L456.45 96.84 L456.71 98.07 L456.97 99.24 L457.22 100.37 L457.48 101.43 L457.74 102.41 L458 103.32 L458.26 104.15 L458.52 104.88 L458.77 105.51 L459.03 106.05 L459.29 106.48 L459.55 106.8 L459.81 107 L460.07 107.1 L460.32 107.09 L460.58 106.96 L460.84 106.72 L461.1 106.38 L461.36 105.92 L461.62 105.37 L461.88 104.72 L462.13 103.97 L462.39 103.14 L462.65 102.23 L462.91 101.24 L463.17 100.19 L463.43 99.08 L463.68 97.92 L463.94 96.73 L464.2 95.5 L464.46 94.25 L464.72 92.99 L464.98 91.72 L465.23 90.46 L465.49 89.22 L465.75 88.01 L466.01 86.83 L466.27 85.7 L466.53 84.61 L466.78 83.59 L467.04 82.64 L467.3 81.76 L467.56 80.96 L467.82 80.25 L468.08 79.64 L468.34 79.12 L468.59 78.7 L468.85 78.39 L469.11 78.18 L469.37 78.08 L469.63 78.09 L469.89 78.21 L470.14 78.43 L470.4 78.75 L470.66 79.18 L470.92 79.71 L471.18 80.33 L471.44 81.04 L471.69 81.84 L471.95 82.71 L472.21 83.65 L472.47 84.66 L472.73 85.72 L472.99 86.83 L473.24 87.98 L473.5 89.16 L473.76 90.36 L474.02 91.57 L474.28 92.78 L474.54 93.99 L474.8 95.18 L475.05 96.35 L475.31 97.49 L475.57 98.58 L475.83 99.62 L476.09 100.61 L476.35 101.53 L476.6 102.38 L476.86 103.15 L477.12 103.83 L477.38 104.43 L477.64 104.93 L477.9 105.34 L478.15 105.65 L478.41 105.85 L478.67 105.96 L478.93 105.96 L479.19 105.85 L479.45 105.64 L479.7 105.34 L479.96 104.93 L480.22 104.43 L480.48 103.84 L480.74 103.16 L481 102.4 L481.26 101.57 L481.51 100.67 L481.77 99.7 L482.03 98.68 L482.29 97.62 L482.55 96.52 L482.81 95.39 L483.06 94.24 L483.32 93.07 L483.58 91.91 L483.84 90.75 L484.1 89.6 L484.36 88.47 L484.61 87.38 L484.87 86.33 L485.13 85.32 L485.39 84.37 L485.65 83.48 L485.91 82.67 L486.16 81.92 L486.42 81.26 L486.68 80.68 L486.94 80.19 L487.2 79.79 L487.46 79.49 L487.72 79.29 L487.97 79.18 L488.23 79.18 L488.49 79.27 L488.75 79.47 L489.01 79.76 L489.27 80.14 L489.52 80.62 L489.78 81.18 L490.04 81.83 L490.3 82.55 L490.56 83.35 L490.82 84.21 L491.07 85.13 L491.33 86.11 L491.59 87.12 L491.85 88.18 L492.11 89.27 L492.37 90.37 L492.62 91.49 L492.88 92.61 L493.14 93.73 L493.4 94.83 L493.66 95.91 L493.92 96.96 L494.18 97.98 L494.43 98.95 L494.69 99.86 L494.95 100.72 L495.21 101.51 L495.47 102.23 L495.73 102.87 L495.98 103.43 L496.24 103.91 L496.5 104.3 L496.76 104.59 L497.02 104.79 L497.28 104.9 L497.53 104.91 L497.79 104.82 L498.05 104.64 L498.31 104.37 L498.57 104.01 L498.83 103.55 L499.08 103.02 L499.34 102.4 L499.6 101.71 L499.86 100.95 L500.12 100.12 L500.38 99.24 L500.64 98.31 L500.89 97.33 L501.15 96.32 L501.41 95.28 L501.67 94.22 L501.93 93.14 L502.19 92.07 L502.44 90.99 L502.7 89.93 L502.96 88.89 L503.22 87.88 L503.48 86.9 L503.74 85.97 L503.99 85.09 L504.25 84.26 L504.51 83.5 L504.77 82.8 L505.03 82.18 L505.29 81.63 L505.54 81.17 L505.8 80.79 L506.06 80.51 L506.32 80.31 L506.58 80.2 L506.84 80.18 L507.1 80.26 L507.35 80.43 L507.61 80.68 L507.87 81.03 L508.13 81.46 L508.39 81.97 L508.65 82.56 L508.9 83.22 L509.16 83.94 L509.42 84.73 L509.68 85.58 L509.94 86.47 L510.2 87.41 L510.45 88.38 L510.71 89.38 L510.97 90.4 L511.23 91.43 L511.49 92.46 L511.75 93.49 L512 94.51 L512.26 95.51 L512.52 96.49 L512.78 97.43 L513.04 98.33 L513.3 99.18 L513.56 99.98 L513.81 100.72 L514.07 101.39 L514.33 101.99 L514.59 102.52 L514.85 102.97 L515.11 103.33 L515.36 103.62 L515.62 103.81 L515.88 103.92 L516.14 103.94 L516.4 103.87 L516.66 103.72 L516.91 103.48 L517.17 103.15 L517.43 102.74 L517.69 102.26 L517.95 101.7 L518.21 101.07 L518.46 100.37 L518.72 99.62 L518.98 98.81 L519.24 97.95 L519.5 97.06 L519.76 96.12 L520.02 95.17 L520.27 94.19 L520.53 93.2 L520.79 92.21 L521.05 91.21 L521.31 90.23 L521.57 89.27 L521.82 88.33 L522.08 87.43 L522.34 86.56 L522.6 85.74 L522.86 84.97 L523.12 84.26 L523.37 83.61 L523.63 83.02 L523.89 82.51 L524.15 82.08 L524.41 81.72 L524.67 81.44 L524.92 81.25 L525.18 81.14 L525.44 81.11 L525.7 81.17 L525.96 81.32 L526.22 81.55 L526.48 81.85 L526.73 82.24 L526.99 82.7 L527.25 83.24 L527.51 83.84 L527.77 84.5 L528.03 85.22 L528.28 86 L528.54 86.82 L528.8 87.68 L529.06 88.57 L529.32 89.49 L529.58 90.43 L529.83 91.38 L530.09 92.33 L530.35 93.29 L530.61 94.23 L530.87 95.16 L531.13 96.06 L531.38 96.93 L531.64 97.77 L531.9 98.56 L532.16 99.3 L532.42 99.99 L532.68 100.62 L532.94 101.18 L533.19 101.68 L533.45 102.1 L533.71 102.45 L533.97 102.72 L534.23 102.91 L534.49 103.02 L534.74 103.05 L535 102.99 L535.26 102.86 L535.52 102.65 L535.78 102.36 L536.04 101.99 L536.29 101.55 L536.55 101.04 L536.81 100.47 L537.07 99.83 L537.33 99.14 L537.59 98.4 L537.84 97.62 L538.1 96.79 L538.36 95.94 L538.62 95.05 L538.88 94.15 L539.14 93.24 L539.4 92.32 L539.65 91.41 L539.91 90.5 L540.17 89.61 L540.43 88.74 L540.69 87.9 L540.95 87.1 L541.2 86.33 L541.46 85.62 L541.72 84.95 L541.98 84.34 L542.24 83.8 L542.5 83.32 L542.75 82.91 L543.01 82.57 L543.27 82.3 L543.53 82.12 L543.79 82.01 L544.05 81.97 L544.3 82.02 L544.56 82.14 L544.82 82.35 L545.08 82.62 L545.34 82.97 L545.6 83.39 L545.86 83.87 L546.11 84.42 L546.37 85.03 L546.63 85.69 L546.89 86.39 L547.15 87.15 L547.41 87.94 L547.66 88.76 L547.92 89.6 L548.18 90.47 L548.44 91.34 L548.7 92.22 L548.96 93.1 L549.21 93.98 L549.47 94.83 L549.73 95.67 L549.99 96.48 L550.25 97.25 L550.51 97.99 L550.76 98.68 L551.02 99.32 L551.28 99.91 L551.54 100.44 L551.8 100.9 L552.06 101.3 L552.32 101.63 L552.57 101.89 L552.83 102.07 L553.09 102.19 L553.35 102.22 L553.61 102.18 L553.87 102.07 L554.12 101.88 L554.38 101.62 L554.64 101.29 L554.9 100.89 L555.16 100.43 L555.42 99.9 L555.67 99.32 L555.93 98.69 L556.19 98.02 L556.45 97.3 L556.71 96.54 L556.97 95.75 L557.22 94.94 L557.48 94.11 L557.74 93.27 L558 92.42 L558.26 91.58 L558.52 90.74 L558.78 89.92 L559.03 89.11 L559.29 88.33 L559.55 87.59 L559.81 86.88 L560.07 86.21 L560.33 85.59 L560.58 85.02 L560.84 84.51 L561.1 84.06 L561.36 83.67 L561.62 83.35 L561.88 83.1 L562.13 82.92 L562.39 82.81 L562.65 82.77 L562.91 82.8 L563.17 82.91 L563.43 83.09 L563.68 83.33 L563.94 83.65 L564.2 84.02 L564.46 84.46 L564.72 84.96 L564.98 85.52 L565.24 86.12 L565.49 86.77 L565.75 87.46 L566.01 88.18 L566.27 88.94 L566.53 89.71 L566.79 90.51 L567.04 91.32 L567.3 92.13 L567.56 92.94 L567.82 93.75 L568.08 94.54 L568.34 95.32 L568.59 96.07 L568.85 96.79 L569.11 97.47 L569.37 98.11 L569.63 98.71 L569.89 99.26 L570.14 99.75 L570.4 100.19 L570.66 100.57 L570.92 100.88 L571.18 101.13 L571.44 101.3 L571.7 101.42 L571.95 101.46 L572.21 101.43 L572.47 101.33 L572.73 101.16 L572.99 100.93 L573.25 100.63 L573.5 100.28 L573.76 99.86 L574.02 99.38 L574.28 98.85 L574.54 98.27 L574.8 97.65 L575.05 96.99 L575.31 96.3 L575.57 95.58 L575.83 94.83 L576.09 94.07 L576.35 93.29 L576.6 92.51 L576.86 91.73 L577.12 90.95 L577.38 90.19 L577.64 89.45 L577.9 88.72 L578.16 88.03 L578.41 87.37 L578.67 86.75 L578.93 86.17 L579.19 85.64 L579.45 85.17 L579.71 84.74 L579.96 84.38 L580.22 84.07 L580.48 83.83 L580.74 83.66 L581 83.55 L581.26 83.5 L581.51 83.53 L581.77 83.62 L582.03 83.77 L582.29 83.99 L582.55 84.27 L582.81 84.62 L583.06 85.02 L583.32 85.47 L583.58 85.97 L583.84 86.53 L584.1 87.12 L584.36 87.75 L584.62 88.42 L584.87 89.11 L585.13 89.83 L585.39 90.56 L585.65 91.3 L585.91 92.05 L586.17 92.8 L586.42 93.55 L586.68 94.28 L586.94 95 L587.2 95.7 L587.46 96.36 L587.72 97 L587.97 97.6 L588.23 98.15 L588.49 98.67 L588.75 99.13 L589.01 99.54 L589.27 99.89 L589.52 100.19 L589.78 100.42 L590.04 100.59 L590.3 100.7 L590.56 100.75 L590.82 100.73 L591.08 100.65 L591.33 100.5 L591.59 100.3 L591.85 100.03 L592.11 99.7 L592.37 99.32 L592.63 98.89 L592.88 98.41 L593.14 97.88 L593.4 97.31 L593.66 96.71 L593.92 96.07 L594.18 95.41 L594.43 94.72 L594.69 94.02 L594.95 93.3 L595.21 92.58 L595.47 91.86 L595.73 91.14 L595.98 90.44 L596.24 89.75 L596.5 89.08 L596.76 88.43 L597.02 87.82 L597.28 87.24 L597.54 86.71 L597.79 86.21 L598.05 85.77 L598.31 85.37 L598.57 85.03 L598.83 84.74 L599.09 84.51 L599.34 84.34 L599.6 84.23 L599.86 84.18 L600.12 84.2 L600.38 84.27 L600.64 84.41 L600.89 84.6 L601.15 84.86 L601.41 85.17 L601.67 85.53 L601.93 85.94 L602.19 86.4 L602.44 86.91 L602.7 87.45 L602.96 88.03 L603.22 88.64 L603.48 89.28 L603.74 89.94 L604 90.61 L604.25 91.3 L604.51 91.99 L604.77 92.68 L605.03 93.37 L605.29 94.05 L605.55 94.71 L605.8 95.36 L606.06 95.98 L606.32 96.57 L606.58 97.12 L606.84 97.64 L607.1 98.12 L607.35 98.55 L607.61 98.94 L607.87 99.27 L608.13 99.55 L608.39 99.77 L608.65 99.94 L608.9 100.05 L609.16 100.1 L609.42 100.09 L609.68 100.02 L609.94 99.89 L610.2 99.71 L610.46 99.47 L610.71 99.17 L610.97 98.83 L611.23 98.43 L611.49 97.99 L611.75 97.51 L612.01 96.99 L612.26 96.44 L612.52 95.85 L612.78 95.24 L613.04 94.61 L613.3 93.96 L613.56 93.3 L613.81 92.64 L614.07 91.97 L614.33 91.31 L614.59 90.66 L614.85 90.02 L615.11 89.4 L615.36 88.8 L615.62 88.23 L615.88 87.7 L616.14 87.2 L616.4 86.73 L616.66 86.32 L616.92 85.94 L617.17 85.62 L617.43 85.35 L617.69 85.13 L617.95 84.97 L618.21 84.86 L618.47 84.81 L618.72 84.82 L618.98 84.88 L619.24 85 L619.5 85.17 L619.76 85.4 L620.02 85.68 L620.27 86.01 L620.53 86.38 L620.79 86.8 L621.05 87.26 L621.31 87.76 L621.57 88.29 L621.82 88.85 L622.08 89.44 L622.34 90.04 L622.6 90.66 L622.86 91.3 L623.12 91.93 L623.38 92.57 L623.63 93.21 L623.89 93.84 L624.15 94.45 L624.41 95.05 L624.67 95.63 L624.93 96.17 L625.18 96.69 L625.44 97.18 L625.7 97.62 L625.96 98.03 L626.22 98.39 L626.48 98.7 L626.73 98.96 L626.99 99.18 L627.25 99.34 L627.51 99.44 L627.77 99.49 L628.03 99.49 L628.28 99.43 L628.54 99.32 L628.8 99.16 L629.06 98.94 L629.32 98.68 L629.58 98.37 L629.84 98.01 L630.09 97.61 L630.35 97.17 L630.61 96.69 L630.87 96.18 L631.13 95.65 L631.39 95.08 L631.64 94.5 L631.9 93.91 L632.16 93.3 L632.42 92.69 L632.68 92.07 L632.94 91.46 L633.19 90.86 L633.45 90.27 L633.71 89.69 L633.97 89.14 L634.23 88.61 L634.49 88.11 L634.74 87.64 L635 87.21 L635.26 86.82 L635.52 86.47 L635.78 86.17 L636.04 85.91 L636.3 85.71 L636.55 85.55 L636.81 85.44 L637.07 85.39 L637.33 85.39 L637.59 85.44 L637.85 85.54 L638.1 85.7 L638.36 85.9 L638.62 86.15 L638.88 86.45 L639.14 86.79 L639.4 87.18 L639.65 87.6 L639.91 88.05 L640.17 88.54 L640.43 89.05 L640.69 89.59 L640.95 90.15 L641.2 90.72 L641.46 91.3 L641.72 91.89 L641.98 92.48 L642.24 93.07 L642.5 93.65 L642.76 94.22 L643.01 94.77 L643.27 95.31 L643.53 95.82 L643.79 96.3 L644.05 96.75 L644.31 97.16 L644.56 97.54 L644.82 97.88 L645.08 98.17 L645.34 98.42 L645.6 98.62 L645.86 98.78 L646.11 98.88 L646.37 98.94 L646.63 98.94 L646.89 98.89 L647.15 98.8 L647.41 98.65 L647.66 98.46 L647.92 98.22 L648.18 97.94 L648.44 97.61 L648.7 97.24 L648.96 96.84 L649.22 96.41 L649.47 95.94 L649.73 95.45 L649.99 94.93 L650.25 94.4 L650.51 93.85 L650.77 93.29 L651.02 92.73 L651.28 92.16 L651.54 91.59 L651.8 91.04 L652.06 90.49 L652.32 89.96 L652.57 89.44 L652.83 88.95 L653.09 88.49 L653.35 88.05 L653.61 87.65 L653.87 87.28 L654.12 86.96 L654.38 86.67 L654.64 86.43 L654.9 86.23 L655.16 86.08 L655.42 85.98 L655.68 85.93 L655.93 85.92 L656.19 85.96 L656.45 86.05 L656.71 86.19 L656.97 86.37 L657.23 86.6 L657.48 86.87 L657.74 87.18 L658 87.53 L658.26 87.91 L658.52 88.33 L658.78 88.77 L659.03 89.25 L659.29 89.74 L659.55 90.25 L659.81 90.78 L660.07 91.31 L660.33 91.86 L660.58 92.4 L660.84 92.95 L661.1 93.48 L661.36 94.01 L661.62 94.52 L661.88 95.02 L662.14 95.49 L662.39 95.94 L662.65 96.36 L662.91 96.74 L663.17 97.1 L663.43 97.41 L663.69 97.69 L663.94 97.93 L664.2 98.12 L664.46 98.26 L664.72 98.37 L664.98 98.42 L665.24 98.43 L665.49 98.39 L665.75 98.31 L666.01 98.18 L666.27 98.01 L666.53 97.79 L666.79 97.54 L667.04 97.24 L667.3 96.91 L667.56 96.54 L667.82 96.14 L668.08 95.71 L668.34 95.26 L668.6 94.79 L668.85 94.3 L669.11 93.79 L669.37 93.28 L669.63 92.76 L669.89 92.23 L670.15 91.71 L670.4 91.2 L670.66 90.69 L670.92 90.19 L671.18 89.72 L671.44 89.26 L671.7 88.83 L671.95 88.43 L672.21 88.05 L672.47 87.71 L672.73 87.4 L672.99 87.14 L673.25 86.91 L673.5 86.72 L673.76 86.58 L674.02 86.48 L674.28 86.42 L674.54 86.41 L674.8 86.44 L675.06 86.52 L675.31 86.64 L675.57 86.8 L675.83 87.01 L676.09 87.25 L676.35 87.54 L676.61 87.85 L676.86 88.2 L677.12 88.59 L677.38 88.99 L677.64 89.43 L677.9 89.88 L678.16 90.35 L678.41 90.84 L678.67 91.33 L678.93 91.83 L679.19 92.33 L679.45 92.84 L679.71 93.33 L679.96 93.82 L680.22 94.29 L680.48 94.75 L680.74 95.19 L681 95.61 L681.26 96 L681.52 96.36 L681.77 96.69 L682.03 96.99 L682.29 97.25 L682.55 97.47 L682.81 97.65 L683.07 97.79 L683.32 97.89 L683.58 97.95 L683.84 97.96 L684.1 97.93 L684.36 97.86 L684.62 97.75 L684.87 97.59 L685.13 97.4 L685.39 97.16 L685.65 96.89 L685.91 96.59 L686.17 96.26 L686.42 95.89 L686.68 95.5 L686.94 95.09 L687.2 94.65 L687.46 94.2 L687.72 93.74 L687.98 93.26 L688.23 92.78 L688.49 92.3 L688.75 91.82 L689.01 91.34 L689.27 90.87 L689.53 90.41 L689.78 89.97 L690.04 89.55 L690.3 89.14 L690.56 88.77 L690.82 88.42 L691.08 88.1 L691.33 87.81 L691.59 87.56 L691.85 87.35 L692.11 87.17 L692.37 87.03 L692.63 86.93 L692.88 86.88 L693.14 86.86 L693.4 86.89 L693.66 86.95 L693.92 87.06 L694.18 87.21 L694.44 87.39 L694.69 87.61 L694.95 87.87 L695.21 88.16 L695.47 88.48 L695.73 88.83 L695.99 89.2 L696.24 89.6 L696.5 90.01 L696.76 90.45 L697.02 90.89 L697.28 91.35 L697.54 91.81 L697.79 92.27 L698.05 92.74 L698.31 93.2 L698.57 93.65 L698.83 94.09 L699.09 94.51 L699.34 94.92 L699.6 95.31 L699.86 95.67 L700.12 96.01 L700.38 96.32 L700.64 96.59 L700.9 96.84 L701.15 97.05 L701.41 97.22 L701.67 97.35 L701.93 97.45 L702.19 97.51 L702.45 97.53 L702.7 97.5 L702.96 97.44 L703.22 97.34 L703.48 97.2 L703.74 97.03 L704 96.82 L704.25 96.57 L704.51 96.3 L704.77 95.99 L705.03 95.66 L705.29 95.3 L705.55 94.92 L705.8 94.52 L706.06 94.11 L706.32 93.68 L706.58 93.24 L706.84 92.8 L707.1 92.35 L707.36 91.91 L707.61 91.46 L707.87 91.03 L708.13 90.61 L708.39 90.2 L708.65 89.8 L708.91 89.43 L709.16 89.08 L709.42 88.76 L709.68 88.46 L709.94 88.19 L710.2 87.95 L710.46 87.75 L710.71 87.58 L710.97 87.45 L711.23 87.36 L711.49 87.3 L711.75 87.28 L712.01 87.3 L712.26 87.36 L712.52 87.45 L712.78 87.58 L713.04 87.75 L713.3 87.95 L713.56 88.18 L713.82 88.44 L714.07 88.74 L714.33 89.05 L714.59 89.4 L714.85 89.76 L715.11 90.14 L715.37 90.54 L715.62 90.95 L715.88 91.37 L716.14 91.8 L716.4 92.22 L716.66 92.65 L716.92 93.08 L717.17 93.49 L717.43 93.9 L717.69 94.3 L717.95 94.68 L718.21 95.03 L718.47 95.37 L718.72 95.69 L718.98 95.98 L719.24 96.23 L719.5 96.46" stroke="#f07d49" stroke-width="2"/>
</g>
<path d="M73.5 173.2 v-5 M73.5 11.4 v5 M202.7 173.2 v-5 M202.7 11.4 v5 M331.9 173.2 v-5 M331.9 11.4 v5 M461.1 173.2 v-5 M461.1 11.4 v5 M590.3 173.2 v-5 M590.3 11.4 v5 M719.5 173.2 v-5 M719.5 11.4 v5 M99.34 173.2 v-3 M99.34 11.4 v3 M125.18 173.2 v-3 M125.18 11.4 v3 M151.02 173.2 v-3 M151.02 11.4 v3 M176.86 173.2 v-3 M176.86 11.4 v3 M228.54 173.2 v-3 M228.54 11.4 v3 M254.38 173.2 v-3 M254.38 11.4 v3 M280.22 173.2 v-3 M280.22 11.4 v3 M306.06 173.2 v-3 M306.06 11.4 v3 M357.74 173.2 v-3 M357.74 11.4 v3 M383.58 173.2 v-3 M383.58 11.4 v3 M409.42 173.2 v-3 M409.42 11.4 v3 M435.26 173.2 v-3 M435.26 11.4 v3 M486.94 173.2 v-3 M486.94 11.4 v3 M512.78 173.2 v-3 M512.78 11.4 v3 M538.62 173.2 v-3 M538.62 11.4 v3 M564.46 173.2 v-3 M564.46 11.4 v3 M616.14 173.2 v-3 M616.14 11.4 v3 M641.98 173.2 v-3 M641.98 11.4 v3 M667.82 173.2 v-3 M667.82 11.4 v3 M693.66 173.2 v-3 M693.66 11.4 v3 M73.5 170.4 h5 M719.5 170.4 h-5 M73.5 131.35 h5 M719.5 131.35 h-5 M73.5 92.3 h5 M719.5 92.3 h-5 M73.5 53.25 h5 M719.5 53.25 h-5 M73.5 14.2 h5 M719.5 14.2 h-5 M73.5 162.59 h3 M719.5 162.59 h-3 M73.5 154.78 h3 M719.5 154.78 h-3 M73.5 146.97 h3 M719.5 146.97 h-3 M73.5 139.16 h3 M719.5 139.16 h-3 M73.5 123.54 h3 M719.5 123.54 h-3 M73.5 115.73 h3 M719.5 115.73 h-3 M73.5 107.92 h3 M719.5 107.92 h-3 M73.5 100.11 h3 M719.5 100.11 h-3 M73.5 84.49 h3 M719.5 84.49 h-3 M73.5 76.68 h3 M719.5 76.68 h-3 M73.5 68.87 h3 M719.5 68.87 h-3 M73.5 61.06 h3 M719.5 61.06 h-3 M73.5 45.44 h3 M719.5 45.44 h-3 M73.5 37.63 h3 M719.5 37.63 h-3 M73.5 29.82 h3 M719.5 29.82 h-3 M73.5 22.01 h3 M719.5 22.01 h-3" stroke="#5a5a5a" stroke-width="0.9" fill="none"/>
<rect x="73.5" y="11.4" width="646" height="161.8" fill="none" stroke="#5a5a5a" stroke-width="1.0"/>
<g font-size="18.0" fill="#000">
<text x="73.5" y="193.8" text-anchor="middle">0</text>
<text x="202.7" y="193.8" text-anchor="middle">500</text>
<text x="331.9" y="193.8" text-anchor="middle">1000</text>
<text x="461.1" y="193.8" text-anchor="middle">1500</text>
<text x="590.3" y="193.8" text-anchor="middle">2000</text>
<text x="719.5" y="193.8" text-anchor="middle">2500</text>
<text x="69.6" y="20.4" text-anchor="end">1.0</text>
<text x="69.6" y="59.45" text-anchor="end">0.5</text>
<text x="69.6" y="98.5" text-anchor="end">0.0</text>
<text><tspan x="33.4" y="138.25">−</tspan><tspan x="69.6" y="137.55" text-anchor="end">0.5</tspan></text>
<text><tspan x="33.4" y="177.3">−</tspan><tspan x="69.6" y="176.6" text-anchor="end">1.0</tspan></text>
</g>
<text x="396.8" y="222.4" font-size="19.2" text-anchor="middle" fill="#000">N</text>
<text x="398.4" y="257.9" font-size="20" letter-spacing="0.6" text-anchor="middle" fill="#000">(a)</text>
<g transform="translate(20.6,92) rotate(-90)" fill="#000">
<text x="-16.8" y="0.9" font-size="18" style="stroke-width:0.1px">⟨</text>
<text x="-8.1" y="-0.1" font-size="16.5" font-style="italic">σ</text>
<text x="3" y="-7.5" font-size="11" font-style="italic">x</text>
<text x="2" y="4.5" font-size="11" font-style="italic">s</text>
<text x="8.4" y="0.9" font-size="18" style="stroke-width:0.1px">⟩</text>
</g>
<line x1="555.8" x2="578.6" y1="38.9" y2="38.9" stroke="#3b55cc" stroke-width="1.7"/>
<g fill="#000">
<text transform="translate(586.4,46.5) scale(0.95,1.18)" font-size="18" style="stroke-width:0.1px">⟨</text>
<text x="593.7" y="43.8" font-size="14.8" font-style="italic">σ</text>
<text x="604.2" y="37.6" font-size="10" font-style="italic">x</text>
<text x="603.4" y="48.4" font-size="11.5" font-style="italic">s</text>
<text x="608.7" y="51.4" font-size="10.3">1</text>
<text transform="translate(615.6,46.5) scale(0.95,1.18)" font-size="18" style="stroke-width:0.1px">⟩</text>
</g>
<line x1="634" x2="656.8" y1="38.9" y2="38.9" stroke="#f07d49" stroke-width="1.7"/>
<g fill="#000">
<text transform="translate(664.6,46.5) scale(0.95,1.18)" font-size="18" style="stroke-width:0.1px">⟨</text>
<text x="671.9" y="43.8" font-size="14.8" font-style="italic">σ</text>
<text x="682.4" y="37.6" font-size="10" font-style="italic">x</text>
<text x="681.6" y="48.4" font-size="11.5" font-style="italic">s</text>
<text x="686.9" y="51.4" font-size="10.3">2</text>
<text transform="translate(693.8,46.5) scale(0.95,1.18)" font-size="18" style="stroke-width:0.1px">⟩</text>
</g>
</g>
<g id="plotB">
<line x1="79.8" x2="368.7" y1="374.4" y2="374.4" stroke="#bdbdbd" stroke-width="0.6"/>
<path d="M91.4 347.37 L97.07 405.97 L102.73 344.75 L108.4 365.93 L114.07 403.35 L119.74 331.13 L125.4 385.64 L131.07 375.94 L136.74 340.67 L142.4 398.04 L148.07 336.67 L153.74 361 L159.4 394.96 L165.07 319.19 L170.74 382.56 L176.41 371.78 L182.07 332.28 L187.74 394.42 L193.41 336.36 L199.07 357.46 L204.74 390.88 L210.41 313.18 L216.07 382.1 L221.74 371.78 L227.41 324.43 L233.07 394.96 L238.74 343.06 L244.41 356.23 L250.08 391.65 L255.74 319.42 L261.41 384.95 L267.08 374.86 L272.74 323.96 L278.41 399.27 L284.08 350.22 L289.75 358.15 L295.41 395.19 L301.08 332.28 L306.75 392.57 L312.41 380.17 L318.08 333.51 L323.75 406.89 L329.41 357.46 L335.08 364.62 L340.75 401.2 L346.41 343.75 L352.08 403.35 L357.75 381.33 L363.42 344.29" fill="none" stroke="#595959" stroke-width="2.5" stroke-linejoin="miter"/>
<path d="M85.4 453.9 v-3.2 M85.4 294.5 v3.2 M142.04 453.9 v-3.2 M142.04 294.5 v3.2 M198.68 453.9 v-3.2 M198.68 294.5 v3.2 M255.32 453.9 v-3.2 M255.32 294.5 v3.2 M311.96 453.9 v-3.2 M311.96 294.5 v3.2 M96.73 453.9 v-1.9 M96.73 294.5 v1.9 M108.06 453.9 v-1.9 M108.06 294.5 v1.9 M119.38 453.9 v-1.9 M119.38 294.5 v1.9 M130.71 453.9 v-1.9 M130.71 294.5 v1.9 M153.37 453.9 v-1.9 M153.37 294.5 v1.9 M164.7 453.9 v-1.9 M164.7 294.5 v1.9 M176.02 453.9 v-1.9 M176.02 294.5 v1.9 M187.35 453.9 v-1.9 M187.35 294.5 v1.9 M210.01 453.9 v-1.9 M210.01 294.5 v1.9 M221.34 453.9 v-1.9 M221.34 294.5 v1.9 M232.66 453.9 v-1.9 M232.66 294.5 v1.9 M243.99 453.9 v-1.9 M243.99 294.5 v1.9 M266.65 453.9 v-1.9 M266.65 294.5 v1.9 M277.98 453.9 v-1.9 M277.98 294.5 v1.9 M289.3 453.9 v-1.9 M289.3 294.5 v1.9 M300.63 453.9 v-1.9 M300.63 294.5 v1.9 M323.29 453.9 v-1.9 M323.29 294.5 v1.9 M334.62 453.9 v-1.9 M334.62 294.5 v1.9 M345.94 453.9 v-1.9 M345.94 294.5 v1.9 M357.27 453.9 v-1.9 M357.27 294.5 v1.9 M79.8 451.4 h3.2 M368.7 451.4 h-3.2 M79.8 412.9 h3.2 M368.7 412.9 h-3.2 M79.8 374.4 h3.2 M368.7 374.4 h-3.2 M79.8 335.9 h3.2 M368.7 335.9 h-3.2 M79.8 297.4 h3.2 M368.7 297.4 h-3.2 M79.8 443.7 h1.9 M368.7 443.7 h-1.9 M79.8 436 h1.9 M368.7 436 h-1.9 M79.8 428.3 h1.9 M368.7 428.3 h-1.9 M79.8 420.6 h1.9 M368.7 420.6 h-1.9 M79.8 405.2 h1.9 M368.7 405.2 h-1.9 M79.8 397.5 h1.9 M368.7 397.5 h-1.9 M79.8 389.8 h1.9 M368.7 389.8 h-1.9 M79.8 382.1 h1.9 M368.7 382.1 h-1.9 M79.8 366.7 h1.9 M368.7 366.7 h-1.9 M79.8 359 h1.9 M368.7 359 h-1.9 M79.8 351.3 h1.9 M368.7 351.3 h-1.9 M79.8 343.6 h1.9 M368.7 343.6 h-1.9 M79.8 328.2 h1.9 M368.7 328.2 h-1.9 M79.8 320.5 h1.9 M368.7 320.5 h-1.9 M79.8 312.8 h1.9 M368.7 312.8 h-1.9 M79.8 305.1 h1.9 M368.7 305.1 h-1.9" stroke="#5a5a5a" stroke-width="0.9" fill="none"/>
<rect x="79.8" y="294.5" width="288.9" height="159.4" fill="none" stroke="#5a5a5a" stroke-width="1.0"/>
<g font-size="17.8" fill="#000">
<text x="84.7" y="474.9" text-anchor="middle">0</text>
<text x="140.1" y="474.9" text-anchor="middle">500</text>
<text x="195.7" y="474.9" text-anchor="middle">1000</text>
<text x="251.4" y="474.9" text-anchor="middle">1500</text>
<text x="305.7" y="474.9" text-anchor="middle">2000</text>
<text x="360.9" y="474.9" text-anchor="middle">2500</text>
<text x="75.5" y="303.5" text-anchor="end">1.0</text>
<text x="75.5" y="342" text-anchor="end">0.5</text>
<text x="75.5" y="380.5" text-anchor="end">0.0</text>
<text><tspan x="38.9" y="419.7">−</tspan><tspan x="75.5" y="419" text-anchor="end">0.5</tspan></text>
<text><tspan x="38.9" y="458.2">−</tspan><tspan x="75.5" y="457.5" text-anchor="end">1.0</tspan></text>
</g>
<text x="224.3" y="504" font-size="19" text-anchor="middle" fill="#000">N</text>
<text x="225.6" y="533.9" font-size="20" letter-spacing="0.8" text-anchor="middle" fill="#000">(b)</text>
<g transform="translate(23.6,374.5) rotate(-90)" fill="#000">
<text x="-13.3" y="0" font-size="19" font-style="italic">C</text>
<text x="0.2" y="4" font-size="12.8">xy</text>
</g>
</g>
<g id="plotC">
<g fill="none">
<path d="M444.6 375.9 L445.04 375.22 L445.48 374.55 L445.92 373.89 L446.36 373.23 L446.8 372.57 L447.24 371.93 L447.68 371.29 L448.12 370.65 L448.56 370.02 L449 369.39 L449.44 368.77 L449.88 368.16 L450.32 367.55 L450.76 366.95 L451.2 366.35 L451.64 365.76 L452.08 365.17 L452.52 364.59 L452.96 364.01 L453.4 363.44 L453.84 362.87 L454.28 362.31 L454.72 361.76 L455.16 361.2 L455.6 360.66 L456.04 360.11 L456.48 359.58 L456.92 359.04 L457.36 358.52 L457.8 357.99 L458.24 357.47 L458.68 356.96 L459.12 356.45 L459.56 355.95 L460 355.45 L460.44 354.95 L460.88 354.46 L461.32 353.97 L461.76 353.49 L462.2 353.01 L462.64 352.54 L463.08 352.07 L463.52 351.6 L463.96 351.14 L464.4 350.68 L464.84 350.23 L465.28 349.78 L465.72 349.33 L466.16 348.89 L466.6 348.45 L467.04 348.02 L467.48 347.59 L467.92 347.16 L468.36 346.74 L468.8 346.32 L469.24 345.9 L469.68 345.49 L470.12 345.08 L470.56 344.68 L471 344.28 L471.44 343.88 L471.88 343.49 L472.32 343.1 L472.76 342.71 L473.2 342.33 L473.64 341.95 L474.08 341.57 L474.52 341.2 L474.96 340.83 L475.4 340.46 L475.84 340.1 L476.28 339.74 L476.72 339.38 L477.16 339.03 L477.6 338.68 L478.04 338.33 L478.48 337.98 L478.92 337.64 L479.36 337.3 L479.8 336.97 L480.24 336.64 L480.68 336.31 L481.12 335.98 L481.56 335.66 L482 335.34 L482.44 335.02 L482.88 334.7 L483.32 334.39 L483.76 334.08 L484.2 333.77 L484.64 333.47 L485.08 333.17 L485.52 332.87 L485.96 332.57 L486.4 332.28 L486.84 331.99 L487.28 331.7 L487.72 331.41 L488.16 331.13 L488.6 330.85 L489.04 330.57 L489.48 330.3 L489.92 330.02 L490.36 329.75 L490.8 329.48 L491.24 329.22 L491.68 328.95 L492.12 328.69 L492.56 328.43 L493 328.18 L493.44 327.92 L493.88 327.67 L494.32 327.42 L494.76 327.17 L495.2 326.92 L495.64 326.68 L496.08 326.44 L496.52 326.2 L496.96 325.96 L497.4 325.73 L497.84 325.49 L498.28 325.26 L498.72 325.03 L499.16 324.81 L499.6 324.58 L500.04 324.36 L500.48 324.14 L500.92 323.92 L501.36 323.7 L501.8 323.49 L502.24 323.28 L502.68 323.06 L503.12 322.85 L503.56 322.65 L504 322.44 L504.44 322.24 L504.88 322.04 L505.32 321.84 L505.76 321.64 L506.2 321.44 L506.64 321.24 L507.08 321.05 L507.52 320.86 L507.96 320.67 L508.4 320.48 L508.84 320.3 L509.28 320.11 L509.72 319.93 L510.16 319.75 L510.6 319.57 L511.04 319.39 L511.48 319.21 L511.92 319.03 L512.36 318.86 L512.8 318.69 L513.24 318.52 L513.68 318.35 L514.12 318.18 L514.56 318.01 L515 317.85 L515.44 317.69 L515.88 317.52 L516.32 317.36 L516.76 317.21 L517.2 317.05 L517.64 316.89 L518.08 316.74 L518.52 316.58 L518.96 316.43 L519.4 316.28 L519.84 316.13 L520.28 315.98 L520.72 315.84 L521.16 315.69 L521.6 315.55 L522.04 315.4 L522.48 315.26 L522.92 315.12 L523.36 314.98 L523.8 314.85 L524.24 314.71 L524.68 314.57 L525.12 314.44 L525.56 314.31 L526 314.17 L526.44 314.04 L526.88 313.91 L527.32 313.78 L527.76 313.66 L528.2 313.53 L528.64 313.41 L529.08 313.28 L529.52 313.16 L529.96 313.04 L530.4 312.92 L530.84 312.8 L531.28 312.68 L531.72 312.56 L532.16 312.44 L532.6 312.33 L533.04 312.22 L533.48 312.1 L533.92 311.99 L534.36 311.88 L534.8 311.77 L535.24 311.66 L535.68 311.55 L536.12 311.44 L536.56 311.34 L537 311.23 L537.44 311.13 L537.88 311.02 L538.32 310.92 L538.76 310.82 L539.2 310.72 L539.64 310.62 L540.08 310.52 L540.52 310.42 L540.96 310.32 L541.4 310.22 L541.84 310.13 L542.28 310.03 L542.72 309.94 L543.16 309.85 L543.6 309.75 L544.04 309.66 L544.48 309.57 L544.92 309.48 L545.36 309.39 L545.8 309.3 L546.24 309.22 L546.68 309.13 L547.12 309.04 L547.56 308.96 L548 308.87 L548.44 308.79 L548.88 308.71 L549.32 308.62 L549.76 308.54 L550.2 308.46 L550.64 308.38 L551.08 308.3 L551.52 308.22 L551.96 308.14 L552.4 308.07 L552.84 307.99 L553.28 307.91 L553.72 307.84 L554.16 307.76 L554.6 307.69 L555.04 307.62 L555.48 307.54 L555.92 307.47 L556.36 307.4 L556.8 307.33 L557.24 307.26 L557.68 307.19 L558.12 307.12 L558.56 307.05 L559 306.99 L559.44 306.92 L559.88 306.85 L560.32 306.79 L560.76 306.72 L561.2 306.66 L561.64 306.59 L562.08 306.53 L562.52 306.46 L562.96 306.4 L563.4 306.34 L563.84 306.28 L564.28 306.22 L564.72 306.16 L565.16 306.1 L565.6 306.04 L566.04 305.98 L566.48 305.92 L566.92 305.86 L567.36 305.81 L567.8 305.75 L568.24 305.69 L568.68 305.64 L569.12 305.58 L569.56 305.53 L570 305.47 L570.44 305.42 L570.88 305.37 L571.32 305.31 L571.76 305.26 L572.2 305.21 L572.64 305.16 L573.08 305.11 L573.52 305.06 L573.96 305.01 L574.4 304.96 L574.84 304.91 L575.28 304.86 L575.72 304.81 L576.16 304.76 L576.6 304.72 L577.04 304.67 L577.48 304.62 L577.92 304.58 L578.36 304.53 L578.8 304.48 L579.24 304.44 L579.68 304.39 L580.12 304.35 L580.56 304.31 L581 304.26 L581.44 304.22 L581.88 304.18 L582.32 304.14 L582.76 304.09 L583.2 304.05 L583.64 304.01 L584.08 303.97 L584.52 303.93 L584.96 303.89 L585.4 303.85 L585.84 303.81 L586.28 303.77 L586.72 303.73 L587.16 303.69 L587.6 303.66 L588.04 303.62 L588.48 303.58 L588.92 303.54 L589.36 303.51 L589.8 303.47 L590.24 303.44 L590.68 303.4 L591.12 303.36 L591.56 303.33 L592 303.29 L592.44 303.26 L592.88 303.23 L593.32 303.19 L593.76 303.16 L594.2 303.13 L594.64 303.09 L595.08 303.06 L595.52 303.03 L595.96 302.99 L596.4 302.96 L596.84 302.93 L597.28 302.9 L597.72 302.87 L598.16 302.84 L598.6 302.81 L599.04 302.78 L599.48 302.75 L599.92 302.72 L600.36 302.69 L600.8 302.66 L601.24 302.63 L601.68 302.6 L602.12 302.57 L602.56 302.55 L603 302.52 L603.44 302.49 L603.88 302.46 L604.32 302.44 L604.76 302.41 L605.2 302.38 L605.64 302.36 L606.08 302.33 L606.52 302.3 L606.96 302.28 L607.4 302.25 L607.84 302.23 L608.28 302.2 L608.72 302.18 L609.16 302.15 L609.6 302.13 L610.04 302.1 L610.48 302.08 L610.92 302.06 L611.36 302.03 L611.8 302.01 L612.24 301.99 L612.68 301.96 L613.12 301.94 L613.56 301.92 L614 301.9 L614.44 301.87 L614.88 301.85 L615.32 301.83 L615.76 301.81 L616.2 301.79 L616.64 301.77 L617.08 301.75 L617.52 301.73 L617.96 301.7 L618.4 301.68 L618.84 301.66 L619.28 301.64 L619.72 301.62 L620.16 301.6 L620.6 301.59 L621.04 301.57 L621.48 301.55 L621.92 301.53 L622.36 301.51 L622.8 301.49 L623.24 301.47 L623.68 301.45 L624.12 301.44 L624.56 301.42 L625 301.4 L625.44 301.38 L625.88 301.36 L626.32 301.35 L626.76 301.33 L627.2 301.31 L627.64 301.3 L628.08 301.28 L628.52 301.26 L628.96 301.25 L629.4 301.23 L629.84 301.21 L630.28 301.2 L630.72 301.18 L631.16 301.17 L631.6 301.15 L632.04 301.13 L632.48 301.12 L632.92 301.1 L633.36 301.09 L633.8 301.07 L634.24 301.06 L634.68 301.04 L635.12 301.03 L635.56 301.02 L636 301 L636.44 300.99 L636.88 300.97 L637.32 300.96 L637.76 300.95 L638.2 300.93 L638.64 300.92 L639.08 300.9 L639.52 300.89 L639.96 300.88 L640.4 300.86 L640.84 300.85 L641.28 300.84 L641.72 300.83 L642.16 300.81 L642.6 300.8 L643.04 300.79 L643.48 300.78 L643.92 300.76 L644.36 300.75 L644.8 300.74 L645.24 300.73 L645.68 300.72 L646.12 300.7 L646.56 300.69 L647 300.68 L647.44 300.67 L647.88 300.66 L648.32 300.65 L648.76 300.64 L649.2 300.63 L649.64 300.62 L650.08 300.6 L650.52 300.59 L650.96 300.58 L651.4 300.57 L651.84 300.56 L652.28 300.55 L652.72 300.54 L653.16 300.53 L653.6 300.52 L654.04 300.51 L654.48 300.5 L654.92 300.49 L655.36 300.48 L655.8 300.47 L656.24 300.46 L656.68 300.45 L657.12 300.44 L657.56 300.44 L658 300.43 L658.44 300.42 L658.88 300.41 L659.32 300.4 L659.76 300.39 L660.2 300.38 L660.64 300.37 L661.08 300.36 L661.52 300.36 L661.96 300.35 L662.4 300.34 L662.84 300.33 L663.28 300.32 L663.72 300.31 L664.16 300.31 L664.6 300.3 L665.04 300.29 L665.48 300.28 L665.92 300.27 L666.36 300.27 L666.8 300.26 L667.24 300.25 L667.68 300.24 L668.12 300.24 L668.56 300.23 L669 300.22 L669.44 300.21 L669.88 300.21 L670.32 300.2 L670.76 300.19 L671.2 300.19 L671.64 300.18 L672.08 300.17 L672.52 300.17 L672.96 300.16 L673.4 300.15 L673.84 300.15 L674.28 300.14 L674.72 300.13 L675.16 300.13 L675.6 300.12 L676.04 300.11 L676.48 300.11 L676.92 300.1 L677.36 300.09 L677.8 300.09 L678.24 300.08 L678.68 300.08 L679.12 300.07 L679.56 300.06 L680 300.06 L680.44 300.05 L680.88 300.05 L681.32 300.04 L681.76 300.04 L682.2 300.03 L682.64 300.02 L683.08 300.02 L683.52 300.01 L683.96 300.01 L684.4 300 L684.84 300 L685.28 299.99 L685.72 299.99 L686.16 299.98 L686.6 299.98 L687.04 299.97 L687.48 299.97 L687.92 299.96 L688.36 299.96 L688.8 299.95 L689.24 299.95 L689.68 299.94 L690.12 299.94 L690.56 299.93 L691 299.93 L691.44 299.92 L691.88 299.92 L692.32 299.91 L692.76 299.91 L693.2 299.9 L693.64 299.9 L694.08 299.9 L694.52 299.89 L694.96 299.89 L695.4 299.88 L695.84 299.88 L696.28 299.87 L696.72 299.87 L697.16 299.87 L697.6 299.86 L698.04 299.86 L698.48 299.85 L698.92 299.85 L699.36 299.85 L699.8 299.84 L700.24 299.84 L700.68 299.83 L701.12 299.83 L701.56 299.83 L702 299.82 L702.44 299.82 L702.88 299.81 L703.32 299.81 L703.76 299.81 L704.2 299.8 L704.64 299.8 L705.08 299.8 L705.52 299.79 L705.96 299.79 L706.4 299.79 L706.84 299.78 L707.28 299.78 L707.72 299.78 L708.16 299.77 L708.6 299.77 L709.04 299.77 L709.48 299.76 L709.92 299.76 L710.36 299.76 L710.8 299.75 L711.24 299.75 L711.68 299.75 L712.12 299.74 L712.56 299.74 L713 299.74 L713.44 299.73 L713.88 299.73 L714.32 299.73 L714.76 299.73 L715.2 299.72 L715.64 299.72 L716.08 299.72 L716.52 299.71 L716.96 299.71 L717.4 299.71 L717.84 299.71 L718.28 299.7 L718.72 299.7 L719.16 299.7 L719.6 299.7 L720.04 299.69 L720.48 299.69 L720.92 299.69 L721.36 299.69" stroke="#5e5e5e" stroke-width="2.7"/>
<path d="M444.6 375.9 L445.04 375.22 L445.48 374.55 L445.92 373.89 L446.36 373.23 L446.8 372.57 L447.24 371.93 L447.68 371.29 L448.12 370.65 L448.56 370.02 L449 369.39 L449.44 368.77 L449.88 368.16 L450.32 367.55 L450.76 366.95 L451.2 366.35 L451.64 365.76 L452.08 365.17 L452.52 364.59 L452.96 364.01 L453.4 363.44 L453.84 362.87 L454.28 362.31 L454.72 361.76 L455.16 361.2 L455.6 360.66 L456.04 360.11 L456.48 359.58 L456.92 359.04 L457.36 358.52 L457.8 357.99 L458.24 357.47 L458.68 356.96 L459.12 356.45 L459.56 355.95 L460 355.45 L460.44 354.95 L460.88 354.46 L461.32 353.97 L461.76 353.49 L462.2 353.01 L462.64 352.54 L463.08 352.07 L463.52 351.6 L463.96 351.14 L464.4 350.68 L464.84 350.23 L465.28 349.78 L465.72 349.33 L466.16 348.89 L466.6 348.45 L467.04 348.02 L467.48 347.59 L467.92 347.16 L468.36 346.74 L468.8 346.32 L469.24 345.9 L469.68 345.49 L470.12 345.08 L470.56 344.68 L471 344.28 L471.44 343.88 L471.88 343.49 L472.32 343.1 L472.76 342.71 L473.2 342.33 L473.64 341.95 L474.08 341.57 L474.52 341.2 L474.96 340.83 L475.4 340.46 L475.84 340.1 L476.28 339.74 L476.72 339.38 L477.16 339.03 L477.6 338.68 L478.04 338.33 L478.48 337.98 L478.92 337.64 L479.36 337.3 L479.8 336.97 L480.24 336.64 L480.68 336.31 L481.12 335.98 L481.56 335.66 L482 335.34 L482.44 335.02 L482.88 334.7 L483.32 334.39 L483.76 334.08 L484.2 333.77 L484.64 333.47 L485.08 333.17 L485.52 332.87 L485.96 332.57 L486.4 332.28 L486.84 331.99 L487.28 331.7 L487.72 331.41 L488.16 331.13 L488.6 330.85 L489.04 330.57 L489.48 330.3 L489.92 330.02 L490.36 329.75 L490.8 329.48 L491.24 329.22 L491.68 328.95 L492.12 328.69 L492.56 328.43 L493 328.18 L493.44 327.92 L493.88 327.67 L494.32 327.42 L494.76 327.17 L495.2 326.92 L495.64 326.68 L496.08 326.44 L496.52 326.2 L496.96 325.96 L497.4 325.73 L497.84 325.49 L498.28 325.26 L498.72 325.03 L499.16 324.81 L499.6 324.58 L500.04 324.36 L500.48 324.14 L500.92 323.92 L501.36 323.7 L501.8 323.49 L502.24 323.28 L502.68 323.06 L503.12 322.85 L503.56 322.65 L504 322.44 L504.44 322.24 L504.88 322.04 L505.32 321.84 L505.76 321.64 L506.2 321.44 L506.64 321.24 L507.08 321.05 L507.52 320.86 L507.96 320.67 L508.4 320.48 L508.84 320.3 L509.28 320.11 L509.72 319.93 L510.16 319.75 L510.6 319.57 L511.04 319.39 L511.48 319.21 L511.92 319.03 L512.36 318.86 L512.8 318.69 L513.24 318.52 L513.68 318.35 L514.12 318.18 L514.56 318.01 L515 317.85 L515.44 317.69 L515.88 317.52 L516.32 317.36 L516.76 317.21 L517.2 317.05 L517.64 316.89 L518.08 316.74 L518.52 316.58 L518.96 316.43 L519.4 316.28 L519.84 316.13 L520.28 315.98 L520.72 315.84 L521.16 315.69 L521.6 315.55 L522.04 315.4 L522.48 315.26 L522.92 315.12 L523.36 314.98 L523.8 314.85 L524.24 314.71 L524.68 314.57 L525.12 314.44 L525.56 314.31 L526 314.17 L526.44 314.04 L526.88 313.91 L527.32 313.78 L527.76 313.66 L528.2 313.53 L528.64 313.41 L529.08 313.28 L529.52 313.16 L529.96 313.04 L530.4 312.92 L530.84 312.8 L531.28 312.68 L531.72 312.56 L532.16 312.44 L532.6 312.33 L533.04 312.22 L533.48 312.1 L533.92 311.99 L534.36 311.88 L534.8 311.77 L535.24 311.66 L535.68 311.55 L536.12 311.44 L536.56 311.34 L537 311.23 L537.44 311.13 L537.88 311.02 L538.32 310.92 L538.76 310.82 L539.2 310.72 L539.64 310.62 L540.08 310.52 L540.52 310.42 L540.96 310.32 L541.4 310.22 L541.84 310.13 L542.28 310.03 L542.72 309.94 L543.16 309.85 L543.6 309.75 L544.04 309.66 L544.48 309.57 L544.92 309.48 L545.36 309.39 L545.8 309.3 L546.24 309.22 L546.68 309.13 L547.12 309.04 L547.56 308.96 L548 308.87 L548.44 308.79 L548.88 308.71 L549.32 308.62 L549.76 308.54 L550.2 308.46 L550.64 308.38 L551.08 308.3 L551.52 308.22 L551.96 308.14 L552.4 308.07 L552.84 307.99 L553.28 307.91 L553.72 307.84 L554.16 307.76 L554.6 307.69 L555.04 307.62 L555.48 307.54 L555.92 307.47 L556.36 307.4 L556.8 307.33 L557.24 307.26 L557.68 307.19 L558.12 307.12 L558.56 307.05 L559 306.99 L559.44 306.92 L559.88 306.85 L560.32 306.79 L560.76 306.72 L561.2 306.66 L561.64 306.59 L562.08 306.53 L562.52 306.46 L562.96 306.4 L563.4 306.34 L563.84 306.28 L564.28 306.22 L564.72 306.16 L565.16 306.1 L565.6 306.04 L566.04 305.98 L566.48 305.92 L566.92 305.86 L567.36 305.81 L567.8 305.75 L568.24 305.69 L568.68 305.64 L569.12 305.58 L569.56 305.53 L570 305.47 L570.44 305.42 L570.88 305.37 L571.32 305.31 L571.76 305.26 L572.2 305.21 L572.64 305.16 L573.08 305.11 L573.52 305.06 L573.96 305.01 L574.4 304.96 L574.84 304.91 L575.28 304.86 L575.72 304.81 L576.16 304.76 L576.6 304.72 L577.04 304.67 L577.48 304.62 L577.92 304.58 L578.36 304.53 L578.8 304.48 L579.24 304.44 L579.68 304.39 L580.12 304.35 L580.56 304.31 L581 304.26 L581.44 304.22 L581.88 304.18 L582.32 304.14 L582.76 304.09 L583.2 304.05 L583.64 304.01 L584.08 303.97 L584.52 303.93 L584.96 303.89 L585.4 303.85 L585.84 303.81 L586.28 303.77 L586.72 303.73 L587.16 303.69 L587.6 303.66 L588.04 303.62 L588.48 303.58 L588.92 303.54 L589.36 303.51 L589.8 303.47 L590.24 303.44 L590.68 303.4 L591.12 303.36 L591.56 303.33 L592 303.29 L592.44 303.26 L592.88 303.23 L593.32 303.19 L593.76 303.16 L594.2 303.13 L594.64 303.09 L595.08 303.06 L595.52 303.03 L595.96 302.99 L596.4 302.96 L596.84 302.93 L597.28 302.9 L597.72 302.87 L598.16 302.84 L598.6 302.81 L599.04 302.78 L599.48 302.75 L599.92 302.72 L600.36 302.69 L600.8 302.66 L601.24 302.63 L601.68 302.6 L602.12 302.57 L602.56 302.55 L603 302.52 L603.44 302.49 L603.88 302.46 L604.32 302.44 L604.76 302.41 L605.2 302.38 L605.64 302.36 L606.08 302.33 L606.52 302.3 L606.96 302.28 L607.4 302.25 L607.84 302.23 L608.28 302.2 L608.72 302.18 L609.16 302.15 L609.6 302.13 L610.04 302.1 L610.48 302.08 L610.92 302.06 L611.36 302.03 L611.8 302.01 L612.24 301.99 L612.68 301.96 L613.12 301.94 L613.56 301.92 L614 301.9 L614.44 301.87 L614.88 301.85 L615.32 301.83 L615.76 301.81 L616.2 301.79 L616.64 301.77 L617.08 301.75 L617.52 301.73 L617.96 301.7 L618.4 301.68 L618.84 301.66 L619.28 301.64 L619.72 301.62 L620.16 301.6 L620.6 301.59 L621.04 301.57 L621.48 301.55 L621.92 301.53 L622.36 301.51 L622.8 301.49 L623.24 301.47 L623.68 301.45 L624.12 301.44 L624.56 301.42 L625 301.4 L625.44 301.38 L625.88 301.36 L626.32 301.35 L626.76 301.33 L627.2 301.31 L627.64 301.3 L628.08 301.28 L628.52 301.26 L628.96 301.25 L629.4 301.23 L629.84 301.21 L630.28 301.2 L630.72 301.18 L631.16 301.17 L631.6 301.15 L632.04 301.13 L632.48 301.12 L632.92 301.1 L633.36 301.09 L633.8 301.07 L634.24 301.06 L634.68 301.04 L635.12 301.03 L635.56 301.02 L636 301 L636.44 300.99 L636.88 300.97 L637.32 300.96 L637.76 300.95 L638.2 300.93 L638.64 300.92 L639.08 300.9 L639.52 300.89 L639.96 300.88 L640.4 300.86 L640.84 300.85 L641.28 300.84 L641.72 300.83 L642.16 300.81 L642.6 300.8 L643.04 300.79 L643.48 300.78 L643.92 300.76 L644.36 300.75 L644.8 300.74 L645.24 300.73 L645.68 300.72 L646.12 300.7 L646.56 300.69 L647 300.68 L647.44 300.67 L647.88 300.66 L648.32 300.65 L648.76 300.64 L649.2 300.63 L649.64 300.62 L650.08 300.6 L650.52 300.59 L650.96 300.58 L651.4 300.57 L651.84 300.56 L652.28 300.55 L652.72 300.54 L653.16 300.53 L653.6 300.52 L654.04 300.51 L654.48 300.5 L654.92 300.49 L655.36 300.48 L655.8 300.47 L656.24 300.46 L656.68 300.45 L657.12 300.44 L657.56 300.44 L658 300.43 L658.44 300.42 L658.88 300.41 L659.32 300.4 L659.76 300.39 L660.2 300.38 L660.64 300.37 L661.08 300.36 L661.52 300.36 L661.96 300.35 L662.4 300.34 L662.84 300.33 L663.28 300.32 L663.72 300.31 L664.16 300.31 L664.6 300.3 L665.04 300.29 L665.48 300.28 L665.92 300.27 L666.36 300.27 L666.8 300.26 L667.24 300.25 L667.68 300.24 L668.12 300.24 L668.56 300.23 L669 300.22 L669.44 300.21 L669.88 300.21 L670.32 300.2 L670.76 300.19 L671.2 300.19 L671.64 300.18 L672.08 300.17 L672.52 300.17 L672.96 300.16 L673.4 300.15 L673.84 300.15 L674.28 300.14 L674.72 300.13 L675.16 300.13 L675.6 300.12 L676.04 300.11 L676.48 300.11 L676.92 300.1 L677.36 300.09 L677.8 300.09 L678.24 300.08 L678.68 300.08 L679.12 300.07 L679.56 300.06 L680 300.06 L680.44 300.05 L680.88 300.05 L681.32 300.04 L681.76 300.04 L682.2 300.03 L682.64 300.02 L683.08 300.02 L683.52 300.01 L683.96 300.01 L684.4 300 L684.84 300 L685.28 299.99 L685.72 299.99 L686.16 299.98 L686.6 299.98 L687.04 299.97 L687.48 299.97 L687.92 299.96 L688.36 299.96 L688.8 299.95 L689.24 299.95 L689.68 299.94 L690.12 299.94 L690.56 299.93 L691 299.93 L691.44 299.92 L691.88 299.92 L692.32 299.91 L692.76 299.91 L693.2 299.9 L693.64 299.9 L694.08 299.9 L694.52 299.89 L694.96 299.89 L695.4 299.88 L695.84 299.88 L696.28 299.87 L696.72 299.87 L697.16 299.87 L697.6 299.86 L698.04 299.86 L698.48 299.85 L698.92 299.85 L699.36 299.85 L699.8 299.84 L700.24 299.84 L700.68 299.83 L701.12 299.83 L701.56 299.83 L702 299.82 L702.44 299.82 L702.88 299.81 L703.32 299.81 L703.76 299.81 L704.2 299.8 L704.64 299.8 L705.08 299.8 L705.52 299.79 L705.96 299.79 L706.4 299.79 L706.84 299.78 L707.28 299.78 L707.72 299.78 L708.16 299.77 L708.6 299.77 L709.04 299.77 L709.48 299.76 L709.92 299.76 L710.36 299.76 L710.8 299.75 L711.24 299.75 L711.68 299.75 L712.12 299.74 L712.56 299.74 L713 299.74 L713.44 299.73 L713.88 299.73 L714.32 299.73 L714.76 299.73 L715.2 299.72 L715.64 299.72 L716.08 299.72 L716.52 299.71 L716.96 299.71 L717.4 299.71 L717.84 299.71 L718.28 299.7 L718.72 299.7 L719.16 299.7 L719.6 299.7 L720.04 299.69 L720.48 299.69 L720.92 299.69 L721.36 299.69" stroke="#b30a0a" stroke-width="2.7" stroke-dasharray="6.4 8.1"/>
<path d="M444.6 414.15 L445.04 413.47 L445.48 412.79 L445.92 412.11 L446.36 411.43 L446.8 410.75 L447.24 410.07 L447.68 409.4 L448.12 408.72 L448.56 408.04 L449 407.37 L449.44 406.69 L449.88 406.02 L450.32 405.35 L450.76 404.67 L451.2 404 L451.64 403.34 L452.08 402.67 L452.52 402 L452.96 401.34 L453.4 400.68 L453.84 400.01 L454.28 399.36 L454.72 398.7 L455.16 398.04 L455.6 397.39 L456.04 396.74 L456.48 396.09 L456.92 395.44 L457.36 394.79 L457.8 394.15 L458.24 393.51 L458.68 392.87 L459.12 392.23 L459.56 391.59 L460 390.96 L460.44 390.33 L460.88 389.7 L461.32 389.08 L461.76 388.46 L462.2 387.84 L462.64 387.22 L463.08 386.6 L463.52 385.99 L463.96 385.38 L464.4 384.77 L464.84 384.17 L465.28 383.57 L465.72 382.97 L466.16 382.37 L466.6 381.78 L467.04 381.18 L467.48 380.6 L467.92 380.01 L468.36 379.43 L468.8 378.85 L469.24 378.27 L469.68 377.7 L470.12 377.13 L470.56 376.56 L471 375.99 L471.44 375.43 L471.88 374.87 L472.32 374.31 L472.76 373.76 L473.2 373.21 L473.64 372.66 L474.08 372.12 L474.52 371.58 L474.96 371.04 L475.4 370.5 L475.84 369.97 L476.28 369.44 L476.72 368.91 L477.16 368.39 L477.6 367.87 L478.04 367.35 L478.48 366.84 L478.92 366.33 L479.36 365.82 L479.8 365.31 L480.24 364.81 L480.68 364.31 L481.12 363.81 L481.56 363.32 L482 362.83 L482.44 362.34 L482.88 361.86 L483.32 361.38 L483.76 360.9 L484.2 360.42 L484.64 359.95 L485.08 359.48 L485.52 359.02 L485.96 358.55 L486.4 358.09 L486.84 357.64 L487.28 357.18 L487.72 356.73 L488.16 356.28 L488.6 355.84 L489.04 355.39 L489.48 354.95 L489.92 354.52 L490.36 354.08 L490.8 353.65 L491.24 353.22 L491.68 352.8 L492.12 352.37 L492.56 351.96 L493 351.54 L493.44 351.12 L493.88 350.71 L494.32 350.31 L494.76 349.9 L495.2 349.5 L495.64 349.1 L496.08 348.7 L496.52 348.31 L496.96 347.91 L497.4 347.53 L497.84 347.14 L498.28 346.76 L498.72 346.37 L499.16 346 L499.6 345.62 L500.04 345.25 L500.48 344.88 L500.92 344.51 L501.36 344.15 L501.8 343.78 L502.24 343.42 L502.68 343.07 L503.12 342.71 L503.56 342.36 L504 342.01 L504.44 341.67 L504.88 341.32 L505.32 340.98 L505.76 340.64 L506.2 340.3 L506.64 339.97 L507.08 339.64 L507.52 339.31 L507.96 338.98 L508.4 338.66 L508.84 338.34 L509.28 338.02 L509.72 337.7 L510.16 337.39 L510.6 337.07 L511.04 336.76 L511.48 336.45 L511.92 336.15 L512.36 335.85 L512.8 335.55 L513.24 335.25 L513.68 334.95 L514.12 334.66 L514.56 334.36 L515 334.08 L515.44 333.79 L515.88 333.5 L516.32 333.22 L516.76 332.94 L517.2 332.66 L517.64 332.38 L518.08 332.11 L518.52 331.84 L518.96 331.57 L519.4 331.3 L519.84 331.03 L520.28 330.77 L520.72 330.51 L521.16 330.25 L521.6 329.99 L522.04 329.73 L522.48 329.48 L522.92 329.23 L523.36 328.98 L523.8 328.73 L524.24 328.49 L524.68 328.24 L525.12 328 L525.56 327.76 L526 327.52 L526.44 327.28 L526.88 327.05 L527.32 326.82 L527.76 326.59 L528.2 326.36 L528.64 326.13 L529.08 325.91 L529.52 325.68 L529.96 325.46 L530.4 325.24 L530.84 325.02 L531.28 324.81 L531.72 324.59 L532.16 324.38 L532.6 324.17 L533.04 323.96 L533.48 323.75 L533.92 323.54 L534.36 323.34 L534.8 323.14 L535.24 322.93 L535.68 322.73 L536.12 322.54 L536.56 322.34 L537 322.14 L537.44 321.95 L537.88 321.76 L538.32 321.57 L538.76 321.38 L539.2 321.19 L539.64 321.01 L540.08 320.82 L540.52 320.64 L540.96 320.46 L541.4 320.28 L541.84 320.1 L542.28 319.93 L542.72 319.75 L543.16 319.58 L543.6 319.41 L544.04 319.23 L544.48 319.07 L544.92 318.9 L545.36 318.73 L545.8 318.57 L546.24 318.4 L546.68 318.24 L547.12 318.08 L547.56 317.92 L548 317.76 L548.44 317.6 L548.88 317.45 L549.32 317.29 L549.76 317.14 L550.2 316.99 L550.64 316.83 L551.08 316.68 L551.52 316.54 L551.96 316.39 L552.4 316.24 L552.84 316.1 L553.28 315.95 L553.72 315.81 L554.16 315.67 L554.6 315.53 L555.04 315.39 L555.48 315.25 L555.92 315.12 L556.36 314.98 L556.8 314.85 L557.24 314.72 L557.68 314.58 L558.12 314.45 L558.56 314.32 L559 314.19 L559.44 314.07 L559.88 313.94 L560.32 313.81 L560.76 313.69 L561.2 313.57 L561.64 313.44 L562.08 313.32 L562.52 313.2 L562.96 313.08 L563.4 312.97 L563.84 312.85 L564.28 312.73 L564.72 312.62 L565.16 312.5 L565.6 312.39 L566.04 312.28 L566.48 312.16 L566.92 312.05 L567.36 311.94 L567.8 311.84 L568.24 311.73 L568.68 311.62 L569.12 311.52 L569.56 311.41 L570 311.31 L570.44 311.2 L570.88 311.1 L571.32 311 L571.76 310.9 L572.2 310.8 L572.64 310.7 L573.08 310.6 L573.52 310.5 L573.96 310.41 L574.4 310.31 L574.84 310.22 L575.28 310.12 L575.72 310.03 L576.16 309.94 L576.6 309.85 L577.04 309.76 L577.48 309.67 L577.92 309.58 L578.36 309.49 L578.8 309.4 L579.24 309.31 L579.68 309.23 L580.12 309.14 L580.56 309.06 L581 308.97 L581.44 308.89 L581.88 308.81 L582.32 308.72 L582.76 308.64 L583.2 308.56 L583.64 308.48 L584.08 308.4 L584.52 308.33 L584.96 308.25 L585.4 308.17 L585.84 308.09 L586.28 308.02 L586.72 307.94 L587.16 307.87 L587.6 307.79 L588.04 307.72 L588.48 307.65 L588.92 307.58 L589.36 307.5 L589.8 307.43 L590.24 307.36 L590.68 307.29 L591.12 307.23 L591.56 307.16 L592 307.09 L592.44 307.02 L592.88 306.96 L593.32 306.89 L593.76 306.82 L594.2 306.76 L594.64 306.69 L595.08 306.63 L595.52 306.57 L595.96 306.51 L596.4 306.44 L596.84 306.38 L597.28 306.32 L597.72 306.26 L598.16 306.2 L598.6 306.14 L599.04 306.08 L599.48 306.02 L599.92 305.97 L600.36 305.91 L600.8 305.85 L601.24 305.79 L601.68 305.74 L602.12 305.68 L602.56 305.63 L603 305.57 L603.44 305.52 L603.88 305.47 L604.32 305.41 L604.76 305.36 L605.2 305.31 L605.64 305.26 L606.08 305.2 L606.52 305.15 L606.96 305.1 L607.4 305.05 L607.84 305 L608.28 304.95 L608.72 304.91 L609.16 304.86 L609.6 304.81 L610.04 304.76 L610.48 304.71 L610.92 304.67 L611.36 304.62 L611.8 304.58 L612.24 304.53 L612.68 304.49 L613.12 304.44 L613.56 304.4 L614 304.35 L614.44 304.31 L614.88 304.27 L615.32 304.22 L615.76 304.18 L616.2 304.14 L616.64 304.1 L617.08 304.06 L617.52 304.02 L617.96 303.98 L618.4 303.94 L618.84 303.9 L619.28 303.86 L619.72 303.82 L620.16 303.78 L620.6 303.74 L621.04 303.7 L621.48 303.66 L621.92 303.63 L622.36 303.59 L622.8 303.55 L623.24 303.52 L623.68 303.48 L624.12 303.44 L624.56 303.41 L625 303.37 L625.44 303.34 L625.88 303.3 L626.32 303.27 L626.76 303.23 L627.2 303.2 L627.64 303.17 L628.08 303.13 L628.52 303.1 L628.96 303.07 L629.4 303.04 L629.84 303 L630.28 302.97 L630.72 302.94 L631.16 302.91 L631.6 302.88 L632.04 302.85 L632.48 302.82 L632.92 302.79 L633.36 302.76 L633.8 302.73 L634.24 302.7 L634.68 302.67 L635.12 302.64 L635.56 302.61 L636 302.59 L636.44 302.56 L636.88 302.53 L637.32 302.5 L637.76 302.47 L638.2 302.45 L638.64 302.42 L639.08 302.39 L639.52 302.37 L639.96 302.34 L640.4 302.32 L640.84 302.29 L641.28 302.26 L641.72 302.24 L642.16 302.21 L642.6 302.19 L643.04 302.16 L643.48 302.14 L643.92 302.12 L644.36 302.09 L644.8 302.07 L645.24 302.05 L645.68 302.02 L646.12 302 L646.56 301.98 L647 301.95 L647.44 301.93 L647.88 301.91 L648.32 301.89 L648.76 301.86 L649.2 301.84 L649.64 301.82 L650.08 301.8 L650.52 301.78 L650.96 301.76 L651.4 301.74 L651.84 301.72 L652.28 301.7 L652.72 301.68 L653.16 301.66 L653.6 301.64 L654.04 301.62 L654.48 301.6 L654.92 301.58 L655.36 301.56 L655.8 301.54 L656.24 301.52 L656.68 301.5 L657.12 301.48 L657.56 301.46 L658 301.45 L658.44 301.43 L658.88 301.41 L659.32 301.39 L659.76 301.37 L660.2 301.36 L660.64 301.34 L661.08 301.32 L661.52 301.31 L661.96 301.29 L662.4 301.27 L662.84 301.26 L663.28 301.24 L663.72 301.22 L664.16 301.21 L664.6 301.19 L665.04 301.18 L665.48 301.16 L665.92 301.14 L666.36 301.13 L666.8 301.11 L667.24 301.1 L667.68 301.08 L668.12 301.07 L668.56 301.05 L669 301.04 L669.44 301.03 L669.88 301.01 L670.32 301 L670.76 300.98 L671.2 300.97 L671.64 300.95 L672.08 300.94 L672.52 300.93 L672.96 300.91 L673.4 300.9 L673.84 300.89 L674.28 300.87 L674.72 300.86 L675.16 300.85 L675.6 300.84 L676.04 300.82 L676.48 300.81 L676.92 300.8 L677.36 300.79 L677.8 300.77 L678.24 300.76 L678.68 300.75 L679.12 300.74 L679.56 300.73 L680 300.71 L680.44 300.7 L680.88 300.69 L681.32 300.68 L681.76 300.67 L682.2 300.66 L682.64 300.65 L683.08 300.63 L683.52 300.62 L683.96 300.61 L684.4 300.6 L684.84 300.59 L685.28 300.58 L685.72 300.57 L686.16 300.56 L686.6 300.55 L687.04 300.54 L687.48 300.53 L687.92 300.52 L688.36 300.51 L688.8 300.5 L689.24 300.49 L689.68 300.48 L690.12 300.47 L690.56 300.46 L691 300.45 L691.44 300.44 L691.88 300.43 L692.32 300.42 L692.76 300.42 L693.2 300.41 L693.64 300.4 L694.08 300.39 L694.52 300.38 L694.96 300.37 L695.4 300.36 L695.84 300.35 L696.28 300.35 L696.72 300.34 L697.16 300.33 L697.6 300.32 L698.04 300.31 L698.48 300.3 L698.92 300.3 L699.36 300.29 L699.8 300.28 L700.24 300.27 L700.68 300.27 L701.12 300.26 L701.56 300.25 L702 300.24 L702.44 300.24 L702.88 300.23 L703.32 300.22 L703.76 300.21 L704.2 300.21 L704.64 300.2 L705.08 300.19 L705.52 300.19 L705.96 300.18 L706.4 300.17 L706.84 300.16 L707.28 300.16 L707.72 300.15 L708.16 300.14 L708.6 300.14 L709.04 300.13 L709.48 300.12 L709.92 300.12 L710.36 300.11 L710.8 300.11 L711.24 300.1 L711.68 300.09 L712.12 300.09 L712.56 300.08 L713 300.08 L713.44 300.07 L713.88 300.06 L714.32 300.06 L714.76 300.05 L715.2 300.05 L715.64 300.04 L716.08 300.03 L716.52 300.03 L716.96 300.02 L717.4 300.02 L717.84 300.01 L718.28 300.01 L718.72 300 L719.16 300 L719.6 299.99 L720.04 299.99 L720.48 299.98 L720.92 299.98 L721.36 299.97" stroke="#0a0aae" stroke-width="2.6" stroke-dasharray="2.5 6"/>
</g>
<path d="M444.6 452.4 v-3.2 M444.6 295.3 v3.2 M499.6 452.4 v-3.2 M499.6 295.3 v3.2 M554.6 452.4 v-3.2 M554.6 295.3 v3.2 M609.6 452.4 v-3.2 M609.6 295.3 v3.2 M664.6 452.4 v-3.2 M664.6 295.3 v3.2 M719.6 452.4 v-3.2 M719.6 295.3 v3.2 M455.6 452.4 v-1.9 M455.6 295.3 v1.9 M466.6 452.4 v-1.9 M466.6 295.3 v1.9 M477.6 452.4 v-1.9 M477.6 295.3 v1.9 M488.6 452.4 v-1.9 M488.6 295.3 v1.9 M510.6 452.4 v-1.9 M510.6 295.3 v1.9 M521.6 452.4 v-1.9 M521.6 295.3 v1.9 M532.6 452.4 v-1.9 M532.6 295.3 v1.9 M543.6 452.4 v-1.9 M543.6 295.3 v1.9 M565.6 452.4 v-1.9 M565.6 295.3 v1.9 M576.6 452.4 v-1.9 M576.6 295.3 v1.9 M587.6 452.4 v-1.9 M587.6 295.3 v1.9 M598.6 452.4 v-1.9 M598.6 295.3 v1.9 M620.6 452.4 v-1.9 M620.6 295.3 v1.9 M631.6 452.4 v-1.9 M631.6 295.3 v1.9 M642.6 452.4 v-1.9 M642.6 295.3 v1.9 M653.6 452.4 v-1.9 M653.6 295.3 v1.9 M675.6 452.4 v-1.9 M675.6 295.3 v1.9 M686.6 452.4 v-1.9 M686.6 295.3 v1.9 M697.6 452.4 v-1.9 M697.6 295.3 v1.9 M708.6 452.4 v-1.9 M708.6 295.3 v1.9 M439.3 452.4 h3.2 M725.6 452.4 h-3.2 M439.3 421.8 h3.2 M725.6 421.8 h-3.2 M439.3 391.2 h3.2 M725.6 391.2 h-3.2 M439.3 360.6 h3.2 M725.6 360.6 h-3.2 M439.3 330 h3.2 M725.6 330 h-3.2 M439.3 299.4 h3.2 M725.6 299.4 h-3.2 M439.3 444.75 h1.9 M725.6 444.75 h-1.9 M439.3 437.1 h1.9 M725.6 437.1 h-1.9 M439.3 429.45 h1.9 M725.6 429.45 h-1.9 M439.3 414.15 h1.9 M725.6 414.15 h-1.9 M439.3 406.5 h1.9 M725.6 406.5 h-1.9 M439.3 398.85 h1.9 M725.6 398.85 h-1.9 M439.3 383.55 h1.9 M725.6 383.55 h-1.9 M439.3 375.9 h1.9 M725.6 375.9 h-1.9 M439.3 368.25 h1.9 M725.6 368.25 h-1.9 M439.3 352.95 h1.9 M725.6 352.95 h-1.9 M439.3 345.3 h1.9 M725.6 345.3 h-1.9 M439.3 337.65 h1.9 M725.6 337.65 h-1.9 M439.3 322.35 h1.9 M725.6 322.35 h-1.9 M439.3 314.7 h1.9 M725.6 314.7 h-1.9 M439.3 307.05 h1.9 M725.6 307.05 h-1.9" stroke="#5a5a5a" stroke-width="0.9" fill="none"/>
<rect x="439.3" y="295.3" width="286.3" height="157.1" fill="none" stroke="#5a5a5a" stroke-width="1.0"/>
<g font-size="17.8" fill="#000">
<text x="444.6" y="473.0" text-anchor="middle">0</text>
<text x="499.6" y="473.0" text-anchor="middle">500</text>
<text x="554.6" y="473.0" text-anchor="middle">1000</text>
<text x="609.6" y="473.0" text-anchor="middle">1500</text>
<text x="664.6" y="473.0" text-anchor="middle">2000</text>
<text x="719.6" y="473.0" text-anchor="middle">2500</text>
<text x="435.5" y="459.4" text-anchor="end">0.0</text>
<text x="435.5" y="428.8" text-anchor="end">0.2</text>
<text x="435.5" y="398.2" text-anchor="end">0.4</text>
<text x="435.5" y="367.6" text-anchor="end">0.6</text>
<text x="435.5" y="337" text-anchor="end">0.8</text>
<text x="435.5" y="306.4" text-anchor="end">1.0</text>
</g>
<text x="582.4" y="500.7" font-size="19" text-anchor="middle" fill="#000">N</text>
<text x="584" y="531.8" font-size="20" letter-spacing="0.8" text-anchor="middle" fill="#000">(c)</text>
<text transform="translate(399.4,374.3) rotate(-90)" font-size="19" text-anchor="middle" fill="#000">F</text>
<line x1="590.1" x2="635.1" y1="362.6" y2="362.6" stroke="#5e5e5e" stroke-width="2.3"/>
<text x="645.3" y="369.1" font-size="15.4" fill="#000">F(<tspan font-style="italic" font-size="16" dx="-0.3">ρ</tspan><tspan font-style="italic" font-size="12" dy="1.9" dx="-0.6">s</tspan><tspan font-size="10.3" dy="3.8" dx="0.3">1</tspan><tspan dy="-5.7" dx="1.0">,</tspan><tspan font-style="italic" font-size="16" dx="0.3">ρ</tspan><tspan font-size="11.2" font-style="italic" dy="2.2" dx="-0.4">e</tspan><tspan dy="-2.2" dx="0.6">)</tspan></text>
<line x1="590.1" x2="635.1" y1="394.6" y2="394.6" stroke="#b30a0a" stroke-width="2.4" stroke-dasharray="6.4 8.1"/>
<text x="645.3" y="401.1" font-size="15.4" fill="#000">F(<tspan font-style="italic" font-size="16" dx="-0.3">ρ</tspan><tspan font-style="italic" font-size="12" dy="1.9" dx="-0.6">s</tspan><tspan font-size="10.3" dy="3.8" dx="0.3">2</tspan><tspan dy="-5.7" dx="1.0">,</tspan><tspan font-style="italic" font-size="16" dx="0.3">ρ</tspan><tspan font-size="11.2" font-style="italic" dy="2.2" dx="-0.4">e</tspan><tspan dy="-2.2" dx="0.6">)</tspan></text>
<line x1="590.1" x2="635.1" y1="426.8" y2="426.8" stroke="#0a0aae" stroke-width="2.6" stroke-dasharray="2.5 6"/>
<text x="645.3" y="433.3" font-size="15.4" fill="#000">F(<tspan font-style="italic" font-size="16" dx="-0.3">ρ</tspan><tspan font-style="italic" font-size="12" dy="1.9" dx="-0.6">s</tspan><tspan font-size="10.3" dy="3.8" dx="0.3">12</tspan><tspan dy="-5.7" dx="1.0">,</tspan><tspan font-style="italic" font-size="16" dx="0.3">ρ</tspan><tspan font-size="11.2" dy="2.2" dx="-0.4">ee</tspan><tspan dy="-2.2" dx="0.6">)</tspan></text>
</g>
</svg>
</body>
</html>
